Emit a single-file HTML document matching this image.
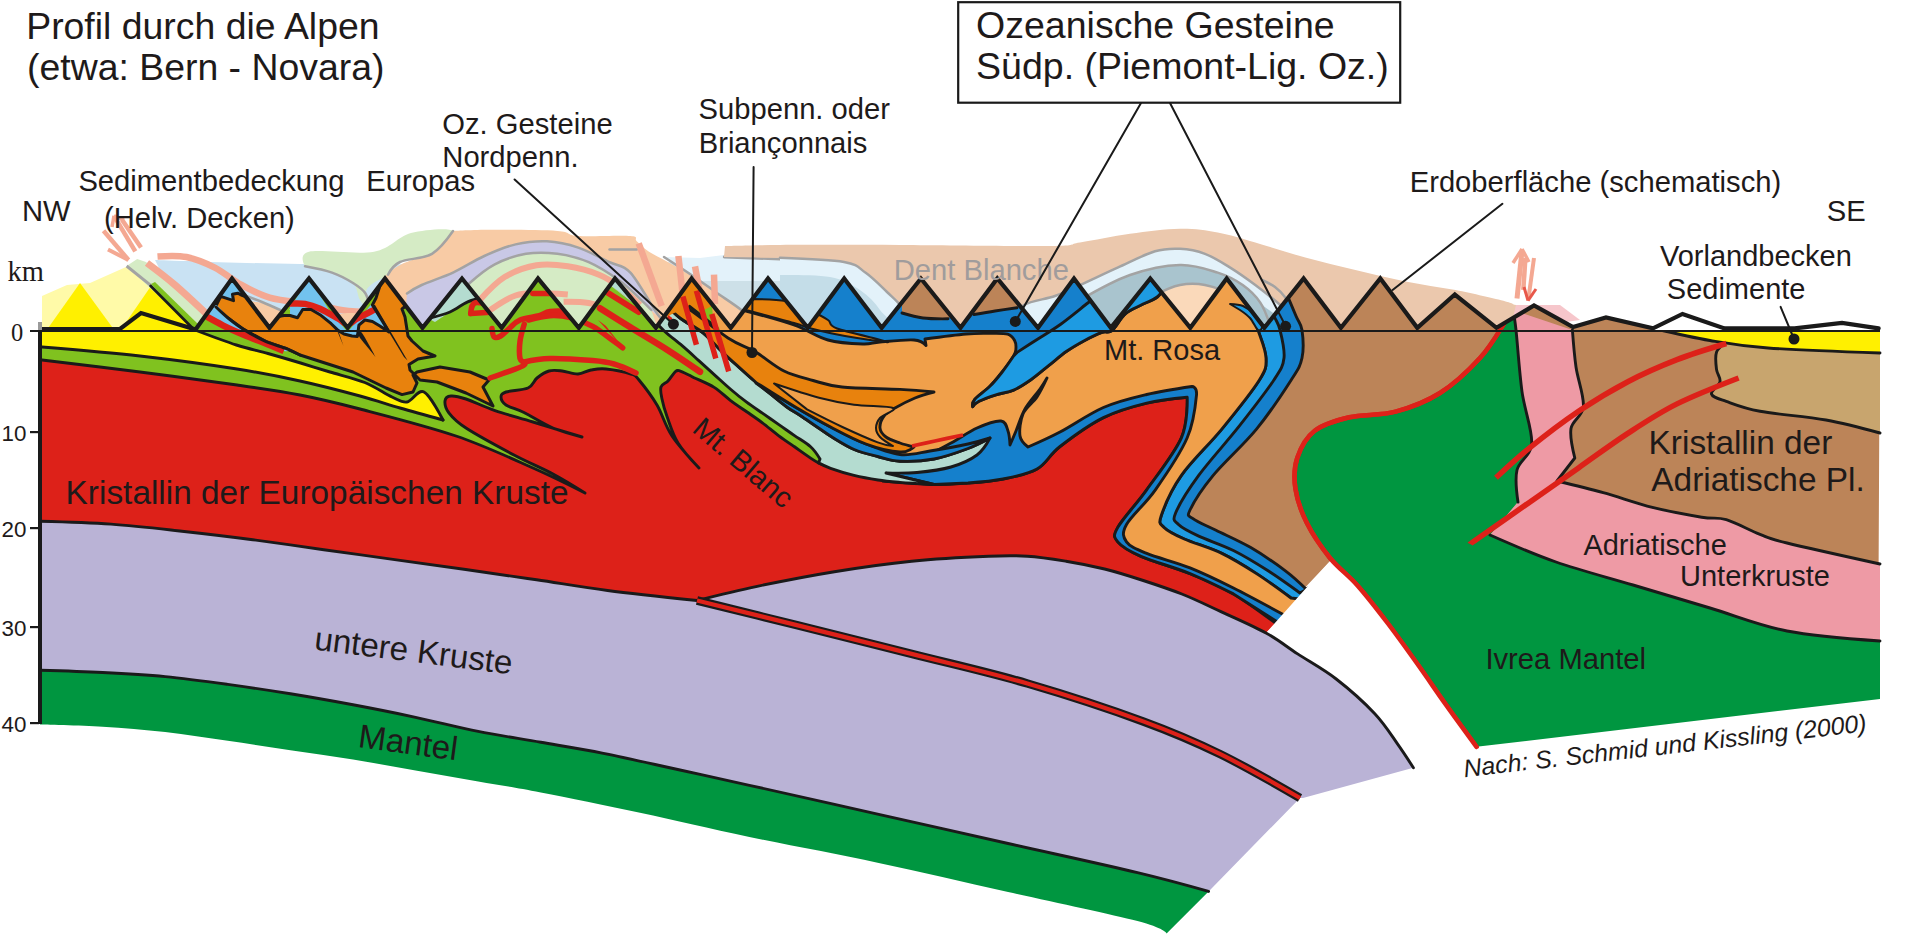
<!DOCTYPE html>
<html><head><meta charset="utf-8"><style>
html,body{margin:0;padding:0;background:#fff;}
svg{display:block;}
text{font-family:"Liberation Sans",sans-serif;}
</style></head><body>
<svg width="1917" height="934" viewBox="0 0 1917 934">
<path d="M40.0 670.3 C40.0 670.3 81.7 671.5 102.6 672.5 C123.5 673.5 144.3 674.6 165.2 676.6 C186.1 678.6 206.9 681.5 227.8 684.4 C248.7 687.3 269.5 690.4 290.4 693.8 C311.3 697.2 332.1 700.9 353.0 704.8 C373.9 708.7 394.7 712.9 415.6 717.3 C436.5 721.7 457.3 727.2 478.2 731.4 C499.1 735.6 519.9 738.6 540.8 742.3 C561.7 745.9 580.2 748.7 603.4 753.3 C626.6 757.9 655.7 764.7 680.0 770.0 C704.3 775.3 716.3 777.9 749.4 785.3 C782.5 792.7 835.6 804.7 878.7 814.4 C921.8 824.1 965.0 833.8 1008.1 843.5 C1051.2 853.2 1104.1 864.6 1137.5 872.6 C1170.9 880.6 1208.6 891.4 1208.6 891.4 L1166.6 933.4 C1166.6 933.4 1163.9 928.0 1137.5 921.1 C1111.1 914.2 1051.2 901.7 1008.1 892.0 C965.0 882.3 921.8 872.1 878.7 862.9 C835.6 853.7 789.2 845.4 749.4 837.0 C709.6 828.6 674.8 820.2 640.0 812.8 C605.2 805.4 567.8 797.6 540.8 792.4 C513.8 787.2 499.1 785.1 478.2 781.5 C457.3 777.9 436.5 774.2 415.6 770.5 C394.7 766.8 373.9 762.9 353.0 759.5 C332.1 756.1 311.3 753.3 290.4 750.2 C269.5 747.1 248.7 743.8 227.8 740.8 C206.9 737.8 186.1 734.4 165.2 732.0 C144.3 729.6 123.5 728.0 102.6 726.7 C81.7 725.5 40.0 724.5 40.0 724.5Z" fill="#009640" stroke="none" stroke-width="0" stroke-linejoin="round" />
<path d="M40.0 521.3 C40.0 521.3 87.3 522.5 111.0 524.1 C134.7 525.8 158.3 528.6 181.9 531.2 C205.5 533.8 229.2 536.6 252.8 539.7 C276.4 542.8 300.2 546.4 323.8 549.7 C347.4 553.0 371.1 556.3 394.7 559.6 C418.3 562.9 442.0 566.1 465.7 569.5 C489.4 572.9 513.0 576.3 536.6 579.8 C560.2 583.3 580.9 587.0 607.6 590.5 C634.3 594.0 697.0 600.5 697.0 600.5 L697.0 600.5 C697.0 600.5 760.0 616.0 795.8 624.9 C831.6 633.8 873.0 644.1 911.6 653.9 C950.2 663.7 988.8 672.2 1027.4 683.5 C1066.0 694.8 1111.0 709.6 1143.2 721.4 C1175.4 733.2 1194.3 741.4 1220.4 754.2 C1246.5 767.0 1300.0 798.0 1300.0 798.0 L1208.6 891.4 L1208.6 891.4 C1208.6 891.4 1170.9 880.6 1137.5 872.6 C1104.1 864.6 1051.2 853.2 1008.1 843.5 C965.0 833.8 921.8 824.1 878.7 814.4 C835.6 804.7 782.5 792.7 749.4 785.3 C716.3 777.9 704.3 775.3 680.0 770.0 C655.7 764.7 626.6 757.9 603.4 753.3 C580.2 748.7 561.7 745.9 540.8 742.3 C519.9 738.6 499.1 735.6 478.2 731.4 C457.3 727.2 436.5 721.7 415.6 717.3 C394.7 712.9 373.9 708.7 353.0 704.8 C332.1 700.9 311.3 697.2 290.4 693.8 C269.5 690.4 248.7 687.3 227.8 684.4 C206.9 681.5 186.1 678.6 165.2 676.6 C144.3 674.6 123.5 673.5 102.6 672.5 C81.7 671.5 40.0 670.3 40.0 670.3Z" fill="#bab3d6" stroke="none" stroke-width="0" stroke-linejoin="round" />
<path d="M40 345 L700 300 L1190 300 L1300 600 L1266 633 L1266.0 633.0 C1266.0 633.0 1234.4 617.9 1220.4 611.4 C1206.4 604.9 1194.7 599.1 1181.8 594.0 C1168.9 588.9 1156.1 584.7 1143.2 580.5 C1130.3 576.3 1117.5 572.2 1104.6 569.0 C1091.7 565.8 1078.9 563.3 1066.0 561.2 C1053.1 559.1 1040.3 557.0 1027.4 556.2 C1014.5 555.4 1008.1 555.4 988.8 556.2 C969.5 557.0 937.3 558.6 911.6 561.2 C885.9 563.8 860.1 567.5 834.4 571.7 C808.7 575.9 780.1 581.5 757.2 586.3 C734.3 591.1 697.0 600.5 697.0 600.5 L697.0 600.5 C697.0 600.5 634.3 594.0 607.6 590.5 C580.9 587.0 560.2 583.3 536.6 579.8 C513.0 576.3 489.4 572.9 465.7 569.5 C442.0 566.1 418.3 562.9 394.7 559.6 C371.1 556.3 347.4 553.0 323.8 549.7 C300.2 546.4 276.4 542.8 252.8 539.7 C229.2 536.6 205.5 533.8 181.9 531.2 C158.3 528.6 134.7 525.8 111.0 524.1 C87.3 522.5 40.0 521.3 40.0 521.3Z" fill="#dd2119" stroke="none" stroke-width="0" stroke-linejoin="round" />
<path d="M697.0 600.5 C697.0 600.5 734.3 591.1 757.2 586.3 C780.1 581.5 808.7 575.9 834.4 571.7 C860.1 567.5 885.9 563.8 911.6 561.2 C937.3 558.6 969.5 557.0 988.8 556.2 C1008.1 555.4 1014.5 555.4 1027.4 556.2 C1040.3 557.0 1053.1 559.1 1066.0 561.2 C1078.9 563.3 1091.7 565.8 1104.6 569.0 C1117.5 572.2 1130.3 576.3 1143.2 580.5 C1156.1 584.7 1168.9 588.9 1181.8 594.0 C1194.7 599.1 1206.4 604.9 1220.4 611.4 C1234.4 617.9 1266.0 633.0 1266.0 633.0 L1266.0 633.0 C1266.0 633.0 1285.9 646.2 1297.6 653.9 C1309.3 661.6 1323.3 669.0 1336.2 679.0 C1349.1 689.0 1364.5 702.8 1374.8 713.7 C1385.1 724.6 1391.6 735.6 1398.0 744.6 C1404.4 753.6 1413.4 767.8 1413.4 767.8 L1303 798 L1300.0 798.0 C1300.0 798.0 1246.5 767.0 1220.4 754.2 C1194.3 741.4 1175.4 733.2 1143.2 721.4 C1111.0 709.6 1066.0 694.8 1027.4 683.5 C988.8 672.2 950.2 663.7 911.6 653.9 C873.0 644.1 831.6 633.8 795.8 624.9 C760.0 616.0 697.0 600.5 697.0 600.5Z" fill="#bab3d6" stroke="none" stroke-width="0" stroke-linejoin="round" />
<path d="M1262 280 L1880 280 L1878 690 L1480 730 L1331 560 L1300 593 L1268.1 570.8 L1233.4 550.5 L1198.7 536.1 L1178.5 524.5 L1175.6 513 L1198.7 475.4 L1239.2 426.2 L1273.9 380 L1284 358 L1280 330Z" fill="#bc8458" stroke="none" stroke-width="0" stroke-linejoin="round" />
<path d="M1513.0 306.0 C1513.0 306.0 1510.5 313.3 1505.0 322.0 C1499.5 330.7 1490.8 346.2 1480.0 358.0 C1469.2 369.8 1454.1 384.1 1440.0 393.0 C1425.9 401.9 1410.7 407.6 1395.6 411.6 C1380.5 415.7 1362.9 414.1 1349.4 417.3 C1335.9 420.5 1323.4 424.1 1314.7 430.8 C1306.0 437.6 1300.5 448.2 1297.3 457.8 C1294.1 467.4 1293.8 477.7 1295.4 488.6 C1297.0 499.5 1301.2 511.7 1307.0 523.3 C1312.8 534.9 1321.7 547.7 1330.0 558.0 C1338.3 568.3 1347.3 574.1 1357.0 585.0 C1366.7 595.9 1377.6 610.0 1387.9 623.5 C1398.2 637.0 1409.1 652.3 1418.7 665.8 C1428.3 679.3 1436.1 690.9 1445.7 704.4 C1455.3 717.9 1476.5 746.8 1476.5 746.8 L1880 699 L1880.0 641.0 C1880.0 641.0 1815.3 636.5 1787.0 631.0 C1758.7 625.5 1735.7 615.7 1710.0 608.0 C1684.3 600.3 1658.7 592.7 1633.0 585.0 C1607.3 577.3 1579.8 570.3 1556.0 562.0 C1532.2 553.7 1490.0 535.0 1490.0 535.0 L1518.0 502.0 C1518.0 502.0 1514.7 479.8 1517.0 470.0 C1519.3 460.2 1530.9 456.4 1531.7 443.3 C1532.5 430.2 1524.6 410.5 1522.0 391.6 C1519.4 372.7 1517.5 343.6 1516.0 330.0 C1514.5 316.4 1513.0 310.0 1513.0 310.0Z" fill="#009640" stroke="none" stroke-width="0" stroke-linejoin="round" />
<path d="M1513.0 310.0 C1513.0 310.0 1514.5 316.4 1516.0 330.0 C1517.5 343.6 1519.4 372.7 1522.0 391.6 C1524.6 410.5 1532.5 430.2 1531.7 443.3 C1530.9 456.4 1519.3 460.2 1517.0 470.0 C1514.7 479.8 1518.0 502.0 1518.0 502.0 L1490.0 535.0 C1490.0 535.0 1532.2 553.7 1556.0 562.0 C1579.8 570.3 1607.3 577.3 1633.0 585.0 C1658.7 592.7 1684.3 600.3 1710.0 608.0 C1735.7 615.7 1758.7 625.5 1787.0 631.0 C1815.3 636.5 1880.0 641.0 1880.0 641.0 L1880.0 564.0 C1880.0 564.0 1807.0 547.9 1787.0 543.0 C1767.0 538.1 1770.1 538.3 1760.0 534.4 C1749.9 530.5 1736.0 522.6 1726.3 519.7 C1716.6 516.8 1714.0 519.3 1701.7 517.2 C1689.4 515.1 1668.8 511.4 1652.4 507.3 C1636.0 503.2 1619.1 497.0 1603.2 492.6 C1587.3 488.2 1557.0 481.0 1557.0 481.0 L1557.0 481.0 C1557.0 481.0 1574.8 458.0 1574.8 458.0 C1574.8 458.0 1569.6 437.1 1571.0 428.5 C1572.4 419.9 1582.6 416.6 1583.4 406.4 C1584.2 396.1 1577.8 379.7 1576.0 367.0 C1574.2 354.3 1572.4 330.0 1572.4 330.0Z" fill="#ee9aa5" stroke="none" stroke-width="0" stroke-linejoin="round" />
<path d="M1513.0 310.0 C1513.0 310.0 1514.5 316.4 1516.0 330.0 C1517.5 343.6 1519.4 372.7 1522.0 391.6 C1524.6 410.5 1532.5 430.2 1531.7 443.3 C1530.9 456.4 1519.3 460.2 1517.0 470.0 C1514.7 479.8 1518.0 502.0 1518.0 502.0" fill="none" stroke="#1a1a1a" stroke-width="2.9"  stroke-linecap="round" stroke-linejoin="round"/>
<path d="M1572.4 330.0 C1572.4 330.0 1574.2 354.3 1576.0 367.0 C1577.8 379.7 1584.2 396.1 1583.4 406.4 C1582.6 416.6 1572.4 419.9 1571.0 428.5 C1569.6 437.1 1574.8 458.0 1574.8 458.0 C1574.8 458.0 1557.0 481.0 1557.0 481.0 C1557.0 481.0 1587.3 488.2 1603.2 492.6 C1619.1 497.0 1636.0 503.2 1652.4 507.3 C1668.8 511.4 1689.4 515.1 1701.7 517.2 C1714.0 519.3 1716.6 516.8 1726.3 519.7 C1736.0 522.6 1749.9 530.5 1760.0 534.4 C1770.1 538.3 1767.0 538.1 1787.0 543.0 C1807.0 547.9 1880.0 564.0 1880.0 564.0" fill="none" stroke="#1a1a1a" stroke-width="2.9"  stroke-linecap="round" stroke-linejoin="round"/>
<path d="M1880.0 641.0 C1880.0 641.0 1815.3 636.5 1787.0 631.0 C1758.7 625.5 1735.7 615.7 1710.0 608.0 C1684.3 600.3 1658.7 592.7 1633.0 585.0 C1607.3 577.3 1579.8 570.3 1556.0 562.0 C1532.2 553.7 1490.0 535.0 1490.0 535.0" fill="none" stroke="#1a1a1a" stroke-width="2.9"  stroke-linecap="round" stroke-linejoin="round"/>
<path d="M1726.3 342.3 C1726.3 342.3 1718.1 347.7 1716.5 352.2 C1714.9 356.7 1715.9 364.5 1716.5 369.4 C1717.1 374.3 1720.8 377.6 1720.0 381.7 C1719.2 385.8 1710.5 390.7 1711.5 394.0 C1712.5 397.3 1718.2 398.5 1726.3 401.4 C1734.4 404.3 1743.4 408.2 1760.0 411.3 C1776.6 414.4 1806.0 416.4 1826.0 420.0 C1846.0 423.6 1880.0 433.0 1880.0 433.0 L1880 352 L1768 348 L1726 342Z" fill="#c8a56e" stroke="none" stroke-width="0" stroke-linejoin="round" />
<path d="M1726.3 342.3 C1726.3 342.3 1718.1 347.7 1716.5 352.2 C1714.9 356.7 1715.9 364.5 1716.5 369.4 C1717.1 374.3 1720.8 377.6 1720.0 381.7 C1719.2 385.8 1710.5 390.7 1711.5 394.0 C1712.5 397.3 1718.2 398.5 1726.3 401.4 C1734.4 404.3 1743.4 408.2 1760.0 411.3 C1776.6 414.4 1806.0 416.4 1826.0 420.0 C1846.0 423.6 1880.0 433.0 1880.0 433.0" fill="none" stroke="#1a1a1a" stroke-width="2.9"  stroke-linecap="round" stroke-linejoin="round"/>
<path d="M1656.0 329.0 C1656.0 329.0 1691.3 337.3 1710.0 340.5 C1728.7 343.7 1739.7 345.9 1768.0 348.0 C1796.3 350.1 1880.0 353.0 1880.0 353.0 L1880 329 L1656 329Z" fill="#fff000" stroke="none" stroke-width="0" stroke-linejoin="round" />
<path d="M1656.0 329.0 C1656.0 329.0 1691.3 337.3 1710.0 340.5 C1728.7 343.7 1739.7 345.9 1768.0 348.0 C1796.3 350.1 1880.0 353.0 1880.0 353.0" fill="none" stroke="#1a1a1a" stroke-width="2.9"  stroke-linecap="round" stroke-linejoin="round"/>
<path d="M1496.0 477.8 C1496.0 477.8 1515.5 459.3 1529.3 448.2 C1543.0 437.1 1562.1 422.4 1578.5 411.3 C1594.9 400.2 1611.4 390.3 1627.8 381.7 C1644.2 373.1 1660.6 366.0 1677.0 359.6 C1693.4 353.2 1726.3 343.5 1726.3 343.5" fill="none" stroke="#dd2119" stroke-width="5.5" stroke-linecap="butt" stroke-linejoin="round"/>
<path d="M1470.0 544.0 C1470.0 544.0 1470.1 543.8 1480.0 536.9 C1489.9 530.0 1512.9 513.9 1529.3 502.4 C1545.7 490.9 1562.1 479.4 1578.5 467.9 C1594.9 456.4 1611.4 444.1 1627.8 433.4 C1644.2 422.7 1658.5 413.1 1677.0 403.9 C1695.5 394.7 1738.6 378.0 1738.6 378.0" fill="none" stroke="#dd2119" stroke-width="5.5" stroke-linecap="butt" stroke-linejoin="round"/>
<path d="M1513.0 306.0 C1513.0 306.0 1510.5 313.3 1505.0 322.0 C1499.5 330.7 1490.8 346.2 1480.0 358.0 C1469.2 369.8 1454.1 384.1 1440.0 393.0 C1425.9 401.9 1410.7 407.6 1395.6 411.6 C1380.5 415.7 1362.9 414.1 1349.4 417.3 C1335.9 420.5 1323.4 424.1 1314.7 430.8 C1306.0 437.6 1300.5 448.2 1297.3 457.8 C1294.1 467.4 1293.8 477.7 1295.4 488.6 C1297.0 499.5 1301.2 511.7 1307.0 523.3 C1312.8 534.9 1321.7 547.7 1330.0 558.0 C1338.3 568.3 1347.3 574.1 1357.0 585.0 C1366.7 595.9 1377.6 610.0 1387.9 623.5 C1398.2 637.0 1409.1 652.3 1418.7 665.8 C1428.3 679.3 1436.1 690.9 1445.7 704.4 C1455.3 717.9 1476.5 746.8 1476.5 746.8" fill="none" stroke="#dd2119" stroke-width="4.5"  stroke-linecap="round" stroke-linejoin="round"/>
<path d="M1285.0 290.0 C1285.0 290.0 1293.2 309.3 1296.0 316.0 C1298.8 322.7 1301.0 323.0 1302.0 330.0 C1303.0 337.0 1303.8 349.7 1302.0 358.0 C1300.2 366.3 1298.8 368.1 1291.2 380.0 C1283.6 391.9 1269.5 413.2 1256.5 429.1 C1243.5 445.0 1224.3 461.9 1213.2 475.4 C1202.1 488.9 1193.4 502.8 1190.0 510.0 C1186.6 517.2 1188.7 515.3 1193.0 518.7 C1197.3 522.1 1206.4 525.5 1216.0 530.3 C1225.6 535.1 1239.2 540.9 1250.8 547.6 C1262.4 554.4 1276.2 563.9 1285.4 570.8 C1294.6 577.7 1306.0 589.0 1306.0 589.0 L1318 583 L1305 606 L1291.0 598.0 C1291.0 598.0 1268.0 581.0 1256.5 573.6 C1245.0 566.2 1233.8 559.2 1221.8 553.4 C1209.8 547.6 1193.9 543.3 1184.3 539.0 C1174.7 534.7 1167.8 531.3 1164.0 527.4 C1160.2 523.5 1158.3 524.5 1161.2 515.8 C1164.1 507.1 1171.3 489.8 1181.4 475.4 C1191.5 460.9 1208.8 445.0 1221.8 429.1 C1234.8 413.2 1252.0 391.9 1259.4 380.0 C1266.8 368.1 1266.2 366.3 1266.0 358.0 C1265.8 349.7 1260.3 337.0 1258.0 330.0 C1255.7 323.0 1255.0 322.7 1252.0 316.0 C1249.0 309.3 1243.7 298.0 1240.0 290.0 C1236.3 282.0 1230.0 268.0 1230.0 268.0Z" fill="#1580cc" stroke="#1a1a1a" stroke-width="2.9" stroke-linejoin="round" />
<path d="M1262.0 290.0 C1262.0 290.0 1271.0 309.3 1274.0 316.0 C1277.0 322.7 1278.3 323.0 1280.0 330.0 C1281.7 337.0 1285.0 349.7 1284.0 358.0 C1283.0 366.3 1281.4 368.6 1273.9 380.0 C1266.4 391.4 1251.7 410.3 1239.2 426.2 C1226.7 442.1 1209.3 460.9 1198.7 475.4 C1188.1 489.9 1179.0 504.8 1175.6 513.0 C1172.2 521.2 1174.7 520.6 1178.5 524.5 C1182.3 528.4 1189.5 531.8 1198.7 536.1 C1207.9 540.4 1221.8 544.7 1233.4 550.5 C1245.0 556.3 1257.0 563.7 1268.1 570.8 C1279.2 577.9 1300.0 593.0 1300.0 593.0 L1318 583 L1305 606 L1291.0 598.0 C1291.0 598.0 1268.0 581.0 1256.5 573.6 C1245.0 566.2 1233.8 559.2 1221.8 553.4 C1209.8 547.6 1193.9 543.3 1184.3 539.0 C1174.7 534.7 1167.8 531.3 1164.0 527.4 C1160.2 523.5 1158.3 524.5 1161.2 515.8 C1164.1 507.1 1171.3 489.8 1181.4 475.4 C1191.5 460.9 1208.8 445.0 1221.8 429.1 C1234.8 413.2 1252.0 391.9 1259.4 380.0 C1266.8 368.1 1266.2 366.3 1266.0 358.0 C1265.8 349.7 1260.3 337.0 1258.0 330.0 C1255.7 323.0 1255.0 322.7 1252.0 316.0 C1249.0 309.3 1243.7 298.0 1240.0 290.0 C1236.3 282.0 1230.0 268.0 1230.0 268.0Z" fill="#1e9be2" stroke="#1a1a1a" stroke-width="2.9" stroke-linejoin="round" />
<path d="M1230.0 268.0 C1230.0 268.0 1236.3 282.0 1240.0 290.0 C1243.7 298.0 1249.0 309.3 1252.0 316.0 C1255.0 322.7 1255.7 323.0 1258.0 330.0 C1260.3 337.0 1265.8 349.7 1266.0 358.0 C1266.2 366.3 1266.8 368.1 1259.4 380.0 C1252.0 391.9 1234.8 413.2 1221.8 429.1 C1208.8 445.0 1191.5 460.9 1181.4 475.4 C1171.3 489.8 1164.1 507.1 1161.2 515.8 C1158.3 524.5 1160.2 523.5 1164.0 527.4 C1167.8 531.3 1174.7 534.7 1184.3 539.0 C1193.9 543.3 1209.8 547.6 1221.8 553.4 C1233.8 559.2 1245.0 566.2 1256.5 573.6 C1268.0 581.0 1291.0 598.0 1291.0 598.0 L1308 600 L1292 625 L1278.0 625.0 C1278.0 625.0 1248.1 602.5 1233.4 593.9 C1218.7 585.3 1205.4 579.9 1190.0 573.6 C1174.6 567.3 1153.0 561.6 1141.0 556.3 C1129.0 551.0 1121.7 546.6 1117.8 541.8 C1113.9 537.0 1113.0 536.1 1117.8 527.4 C1122.6 518.7 1136.1 504.7 1146.7 489.8 C1157.3 474.9 1174.7 453.2 1181.4 437.8 C1188.2 422.4 1187.2 397.3 1187.2 397.3 C1187.2 397.3 1160.7 399.7 1146.7 403.1 C1132.7 406.5 1117.9 410.4 1103.4 417.6 C1089.0 424.8 1071.1 437.9 1060.0 446.5 C1048.9 455.1 1046.5 463.6 1037.0 469.0 C1027.5 474.4 1014.5 476.7 1003.0 479.0 C991.5 481.3 979.5 482.1 968.0 483.0 C956.5 483.9 948.2 484.8 934.0 484.5 C919.8 484.2 883.0 481.0 883.0 481.0 L850 440 L760 390 L700 330 L690 268Z" fill="#f0a04b" stroke="#1a1a1a" stroke-width="2.9" stroke-linejoin="round" />
<path d="M1286.0 616.0 C1286.0 616.0 1249.4 596.0 1233.4 588.0 C1217.4 580.0 1204.5 573.7 1190.0 567.9 C1175.5 562.1 1157.3 557.8 1146.7 553.4 C1136.1 549.0 1129.9 546.6 1126.5 541.8 C1123.1 537.0 1121.7 533.2 1126.5 524.5 C1131.3 515.8 1145.3 504.2 1155.4 489.8 C1165.5 475.4 1180.4 453.6 1187.2 437.8 C1194.0 422.0 1195.7 403.6 1196.5 395.0 C1197.3 386.4 1192.0 386.5 1192.0 386.5 C1192.0 386.5 1161.5 391.0 1146.7 394.5 C1131.9 398.0 1117.9 401.2 1103.4 407.5 C1089.0 413.8 1072.6 425.4 1060.0 432.0 C1047.4 438.6 1028.0 447.0 1028.0 447.0 C1028.0 447.0 1020.8 441.5 1020.0 436.0 C1019.2 430.5 1020.2 420.5 1023.0 414.0 C1025.8 407.5 1033.0 403.0 1037.0 397.0 C1041.0 391.0 1047.0 378.0 1047.0 378.0 C1047.0 378.0 1043.7 383.8 1040.0 389.0 C1036.3 394.2 1029.0 402.0 1025.0 409.0 C1021.0 416.0 1018.5 425.0 1016.0 431.0 C1013.5 437.0 1010.0 445.0 1010.0 445.0 C1010.0 445.0 1009.5 435.0 1008.0 431.0 C1006.5 427.0 1006.2 421.5 1001.0 421.0 C995.8 420.5 985.3 424.3 977.0 428.0 C968.7 431.7 959.5 438.5 951.0 443.0 C942.5 447.5 934.5 452.5 926.0 455.0 C917.5 457.5 906.7 455.0 900.0 458.0 C893.3 461.0 886.0 473.0 886.0 473.0 L934 484.5 L968.0 483.0 C968.0 483.0 991.5 481.3 1003.0 479.0 C1014.5 476.7 1027.5 474.4 1037.0 469.0 C1046.5 463.6 1048.9 455.1 1060.0 446.5 C1071.1 437.9 1089.0 424.8 1103.4 417.6 C1117.9 410.4 1132.7 406.5 1146.7 403.1 C1160.7 399.7 1187.2 397.3 1187.2 397.3 C1187.2 397.3 1188.2 422.4 1181.4 437.8 C1174.7 453.2 1157.3 474.9 1146.7 489.8 C1136.1 504.7 1122.6 518.7 1117.8 527.4 C1113.0 536.1 1113.9 537.0 1117.8 541.8 C1121.7 546.6 1129.0 551.0 1141.0 556.3 C1153.0 561.6 1174.6 567.3 1190.0 573.6 C1205.4 579.9 1233.4 593.9 1233.4 593.9 L1290 630 L1295 620Z" fill="#1580cc" stroke="#1a1a1a" stroke-width="2.9" stroke-linejoin="round" />
<path d="M735.0 270.0 C735.0 270.0 1094.2 265.9 1165.0 270.0 C1235.8 274.1 1163.2 289.0 1159.6 294.7 C1155.9 300.4 1148.8 301.0 1143.1 304.1 C1137.4 307.2 1130.7 309.2 1125.5 313.6 C1120.3 318.0 1115.9 327.5 1112.0 330.6 C1108.1 333.7 1106.5 330.7 1101.9 332.4 C1097.3 334.1 1090.1 337.5 1084.2 340.7 C1078.3 343.9 1072.5 347.2 1066.6 351.3 C1060.7 355.4 1054.8 360.7 1048.9 365.4 C1043.0 370.1 1037.1 375.4 1031.2 379.5 C1025.3 383.6 1019.5 387.6 1013.6 390.1 C1007.7 392.7 1001.7 392.9 995.9 394.8 C990.1 396.7 982.9 399.3 979.0 401.3 C975.1 403.3 972.7 406.7 972.7 406.7 C972.7 406.7 972.0 402.6 974.9 399.2 C977.8 395.8 985.4 390.8 989.9 386.3 C994.4 381.9 997.8 377.6 1001.8 372.5 C1005.8 367.4 1011.2 359.9 1013.6 356.0 C1016.0 352.1 1015.7 351.4 1015.9 348.9 C1016.1 346.3 1016.1 343.1 1014.7 340.7 C1013.3 338.2 1011.8 335.4 1007.7 334.2 C1003.6 333.0 997.0 333.4 990.0 333.4 C983.0 333.4 976.8 333.1 966.0 334.0 C955.2 334.9 925.0 339.0 925.0 339.0 C925.0 339.0 926.0 345.5 926.0 345.5 C926.0 345.5 921.7 340.6 914.0 340.0 C906.3 339.4 888.5 341.3 880.0 342.0 C871.5 342.7 871.7 344.3 863.0 344.0 C854.3 343.7 839.5 343.2 828.0 340.0 C816.5 336.8 807.7 329.8 794.0 325.0 C780.3 320.2 746.0 311.0 746.0 311.0Z" fill="#1580cc" stroke="#1a1a1a" stroke-width="2.9" stroke-linejoin="round" />
<path d="M1017.1 352.4 C1017.1 352.4 1029.8 344.2 1037.1 339.5 C1044.4 334.8 1052.2 330.3 1060.7 324.2 C1069.2 318.1 1082.5 307.1 1087.8 303.0 C1093.1 298.9 1088.8 302.4 1092.5 299.4 C1096.2 296.4 1097.9 289.1 1110.0 285.0 C1122.1 280.9 1156.7 273.4 1165.0 275.0 C1173.3 276.6 1163.2 289.8 1159.6 294.7 C1155.9 299.6 1148.8 301.0 1143.1 304.1 C1137.4 307.2 1130.7 309.2 1125.5 313.6 C1120.3 318.0 1115.9 327.5 1112.0 330.6 C1108.1 333.7 1106.5 330.7 1101.9 332.4 C1097.3 334.1 1090.1 337.5 1084.2 340.7 C1078.3 343.9 1072.5 347.2 1066.6 351.3 C1060.7 355.4 1054.8 360.7 1048.9 365.4 C1043.0 370.1 1037.1 375.4 1031.2 379.5 C1025.3 383.6 1019.5 387.6 1013.6 390.1 C1007.7 392.7 1001.7 392.9 995.9 394.8 C990.1 396.7 982.9 399.3 979.0 401.3 C975.1 403.3 972.7 406.7 972.7 406.7 C972.7 406.7 972.0 402.6 974.9 399.2 C977.8 395.8 985.4 390.8 989.9 386.3 C994.4 381.9 997.8 377.6 1001.8 372.5 C1005.8 367.4 1013.6 356.0 1013.6 356.0Z" fill="#1e9be2" stroke="#1a1a1a" stroke-width="2.9" stroke-linejoin="round" />
<path d="M902.0 300.0 C902.0 300.0 913.0 277.0 921.0 277.0 C929.0 277.0 945.5 293.0 950.0 300.0 C954.5 307.0 952.5 315.8 948.0 318.8 C943.5 321.8 930.7 319.0 923.0 318.0 C915.3 317.0 902.0 313.0 902.0 313.0Z" fill="#bc8458" stroke="none" stroke-width="0" stroke-linejoin="round" />
<path d="M902.0 313.0 C902.0 313.0 915.3 317.0 923.0 318.0 C930.7 319.0 948.0 318.8 948.0 318.8" fill="none" stroke="#1a1a1a" stroke-width="2.9"  stroke-linecap="round" stroke-linejoin="round"/>
<path d="M975.0 300.0 C975.0 300.0 989.5 277.0 997.0 277.0 C1004.5 277.0 1016.7 294.9 1020.0 300.0 C1023.3 305.1 1021.2 305.9 1017.0 307.7 C1012.8 309.5 1002.2 309.9 995.0 311.0 C987.8 312.1 974.0 314.5 974.0 314.5Z" fill="#bc8458" stroke="none" stroke-width="0" stroke-linejoin="round" />
<path d="M974.0 314.5 C974.0 314.5 987.8 312.1 995.0 311.0 C1002.2 309.9 1017.0 307.7 1017.0 307.7" fill="none" stroke="#1a1a1a" stroke-width="2.9"  stroke-linecap="round" stroke-linejoin="round"/>
<path d="M749.0 299.0 C749.0 299.0 775.7 299.0 786.0 301.0 C796.3 303.0 804.0 307.8 811.0 311.0 C818.0 314.2 823.7 317.1 828.0 320.0 C832.3 322.9 827.0 324.8 837.0 328.5 C847.0 332.2 886.7 340.8 888.0 342.0 C889.3 343.2 857.8 338.2 845.0 336.0 C832.2 333.8 819.5 330.7 811.0 328.5 C802.5 326.3 804.8 326.1 794.0 323.0 C783.2 319.9 746.0 310.0 746.0 310.0Z" fill="#e8820d" stroke="#1a1a1a" stroke-width="2" stroke-linejoin="round" />
<path d="M42.0 360.0 C42.0 360.0 107.5 367.8 140.0 372.0 C172.5 376.2 210.3 381.2 237.0 385.0 C263.7 388.8 279.5 391.0 300.0 395.0 C320.5 399.0 334.0 402.2 360.0 409.0 C386.0 415.8 427.2 426.2 456.0 436.0 C484.8 445.8 511.5 458.5 533.0 468.0 C554.5 477.5 585.0 493.0 585.0 493.0 C585.0 493.0 564.8 480.3 553.0 474.0 C541.2 467.7 528.5 462.7 514.0 455.0 C499.5 447.3 476.8 435.0 466.0 428.0 C455.2 421.0 452.5 417.5 449.0 413.0 C445.5 408.5 444.7 403.8 445.0 401.0 C445.3 398.2 447.5 396.3 451.0 396.0 C454.5 395.7 458.7 396.6 466.0 399.0 C473.3 401.4 483.8 406.8 495.0 410.6 C506.2 414.4 518.5 417.6 533.0 422.0 C547.5 426.4 582.0 437.0 582.0 437.0 C582.0 437.0 562.7 432.1 553.0 428.0 C543.3 423.9 531.8 416.3 524.0 412.5 C516.2 408.7 509.8 407.6 506.0 405.0 C502.2 402.4 501.0 399.2 501.0 397.0 C501.0 394.8 501.5 393.5 506.0 392.0 C510.5 390.5 522.8 390.3 528.0 388.0 C533.2 385.7 533.5 380.8 537.0 378.0 C540.5 375.2 544.8 372.2 549.0 371.0 C553.2 369.8 557.2 370.5 562.0 371.0 C566.8 371.5 573.2 374.2 578.0 374.0 C582.8 373.8 586.3 370.8 591.0 370.0 C595.7 369.2 599.3 368.3 606.0 369.0 C612.7 369.7 625.5 372.2 631.0 374.0 C636.5 375.8 634.7 374.8 639.0 380.0 C643.3 385.2 651.5 395.7 657.0 405.0 C662.5 414.3 665.0 425.5 672.0 436.0 C679.0 446.5 699.0 468.0 699.0 468.0 C699.0 468.0 683.3 451.6 678.0 443.0 C672.7 434.4 669.7 423.8 667.0 416.5 C664.3 409.2 663.0 403.9 662.0 399.0 C661.0 394.1 660.0 390.0 661.0 387.0 C662.0 384.0 665.7 383.5 668.0 381.0 C670.3 378.5 673.2 373.7 675.0 372.0 C676.8 370.3 676.6 370.1 679.0 370.6 C681.4 371.2 687.0 374.1 689.5 375.3 C692.0 376.5 689.9 375.7 694.0 377.7 C698.1 379.7 708.2 383.6 714.2 387.4 C720.2 391.2 724.9 396.3 730.3 400.3 C735.6 404.3 740.9 407.8 746.3 411.5 C751.6 415.2 757.0 418.8 762.4 422.8 C767.8 426.8 773.1 431.6 778.5 435.6 C783.9 439.6 789.1 443.1 794.5 446.8 C799.9 450.6 806.6 455.4 810.6 458.1 C814.6 460.8 816.4 461.8 818.6 462.9 C820.8 464.0 824.0 465.0 824.0 465.0 L800 420 L720 330 L700 270 L400 270 L210 300 L195 330 L42 330Z" fill="#80c21f" stroke="none" stroke-width="0" stroke-linejoin="round" />
<path d="M42.0 360.0 C42.0 360.0 107.5 367.8 140.0 372.0 C172.5 376.2 210.3 381.2 237.0 385.0 C263.7 388.8 279.5 391.0 300.0 395.0 C320.5 399.0 334.0 402.2 360.0 409.0 C386.0 415.8 427.2 426.2 456.0 436.0 C484.8 445.8 511.5 458.5 533.0 468.0 C554.5 477.5 585.0 493.0 585.0 493.0 C585.0 493.0 564.8 480.3 553.0 474.0 C541.2 467.7 528.5 462.7 514.0 455.0 C499.5 447.3 476.8 435.0 466.0 428.0 C455.2 421.0 452.5 417.5 449.0 413.0 C445.5 408.5 444.7 403.8 445.0 401.0 C445.3 398.2 447.5 396.3 451.0 396.0 C454.5 395.7 458.7 396.6 466.0 399.0 C473.3 401.4 483.8 406.8 495.0 410.6 C506.2 414.4 518.5 417.6 533.0 422.0 C547.5 426.4 582.0 437.0 582.0 437.0 C582.0 437.0 562.7 432.1 553.0 428.0 C543.3 423.9 531.8 416.3 524.0 412.5 C516.2 408.7 509.8 407.6 506.0 405.0 C502.2 402.4 501.0 399.2 501.0 397.0 C501.0 394.8 501.5 393.5 506.0 392.0 C510.5 390.5 522.8 390.3 528.0 388.0 C533.2 385.7 533.5 380.8 537.0 378.0 C540.5 375.2 544.8 372.2 549.0 371.0 C553.2 369.8 557.2 370.5 562.0 371.0 C566.8 371.5 573.2 374.2 578.0 374.0 C582.8 373.8 586.3 370.8 591.0 370.0 C595.7 369.2 599.3 368.3 606.0 369.0 C612.7 369.7 625.5 372.2 631.0 374.0 C636.5 375.8 634.7 374.8 639.0 380.0 C643.3 385.2 651.5 395.7 657.0 405.0 C662.5 414.3 665.0 425.5 672.0 436.0 C679.0 446.5 699.0 468.0 699.0 468.0 C699.0 468.0 683.3 451.6 678.0 443.0 C672.7 434.4 669.7 423.8 667.0 416.5 C664.3 409.2 663.0 403.9 662.0 399.0 C661.0 394.1 660.0 390.0 661.0 387.0 C662.0 384.0 665.7 383.5 668.0 381.0 C670.3 378.5 673.2 373.7 675.0 372.0 C676.8 370.3 676.6 370.1 679.0 370.6 C681.4 371.2 687.0 374.1 689.5 375.3 C692.0 376.5 689.9 375.7 694.0 377.7 C698.1 379.7 708.2 383.6 714.2 387.4 C720.2 391.2 724.9 396.3 730.3 400.3 C735.6 404.3 740.9 407.8 746.3 411.5 C751.6 415.2 757.0 418.8 762.4 422.8 C767.8 426.8 773.1 431.6 778.5 435.6 C783.9 439.6 789.1 443.1 794.5 446.8 C799.9 450.6 806.6 455.4 810.6 458.1 C814.6 460.8 816.4 461.8 818.6 462.9 C820.8 464.0 824.0 465.0 824.0 465.0" fill="none" stroke="#1a1a1a" stroke-width="2.9"  stroke-linecap="round" stroke-linejoin="round"/>
<path d="M662.0 300.0 C662.0 300.0 673.2 312.5 680.0 318.0 C686.8 323.5 696.0 327.1 703.0 332.8 C710.0 338.5 716.4 346.5 722.3 352.1 C728.2 357.7 732.9 361.8 738.3 366.6 C743.6 371.4 749.0 376.4 754.4 381.0 C759.8 385.6 765.0 389.6 770.4 393.9 C775.8 398.2 781.1 402.8 786.5 406.7 C791.9 410.6 797.1 413.4 802.5 417.0 C807.9 420.6 813.7 424.7 818.6 428.0 C823.5 431.3 826.1 433.4 832.0 437.0 C837.9 440.6 846.6 446.2 854.2 449.5 C861.8 452.8 870.1 454.6 877.7 456.5 C885.3 458.4 890.6 460.8 900.0 461.2 C909.4 461.6 922.7 461.1 934.0 459.0 C945.3 456.9 958.7 452.0 968.0 448.5 C977.3 445.0 990.0 438.0 990.0 438.0 C990.0 438.0 983.5 450.2 977.0 455.0 C970.5 459.8 961.0 464.1 951.0 467.0 C941.0 469.9 927.8 471.5 917.0 472.5 C906.2 473.5 886.0 473.0 886.0 473.0 C886.0 473.0 934.0 484.5 934.0 484.5 L934.0 484.5 C934.0 484.5 909.3 483.1 900.0 482.4 C890.7 481.6 885.7 481.2 878.0 480.0 C870.3 478.8 861.9 477.3 854.0 475.4 C846.1 473.4 836.5 470.4 830.6 468.3 C824.7 466.2 818.6 462.9 818.6 462.9 L820.0 459.0 C820.0 459.0 814.9 450.7 810.6 446.8 C806.4 442.9 799.9 439.3 794.5 435.6 C789.1 431.9 783.9 428.1 778.5 424.4 C773.1 420.6 767.8 416.9 762.4 413.1 C757.0 409.4 751.6 405.9 746.3 401.9 C740.9 397.9 735.6 393.6 730.3 389.0 C724.9 384.4 719.6 379.4 714.2 374.6 C708.9 369.8 703.6 364.9 698.2 360.1 C692.9 355.3 687.7 350.5 682.1 345.7 C676.5 340.9 669.5 335.8 664.5 331.2 C659.5 326.6 652.0 318.0 652.0 318.0Z" fill="#b4dcd0" stroke="#1a1a1a" stroke-width="2.9" stroke-linejoin="round" />
<path d="M756.0 383.0 C756.0 383.0 782.9 399.7 795.3 407.0 C807.7 414.3 818.8 420.8 830.6 427.0 C842.4 433.2 854.4 439.4 866.0 444.0 C877.6 448.6 889.3 453.3 900.0 454.5 C910.7 455.7 918.7 452.8 930.0 451.0 C941.3 449.2 958.0 446.2 968.0 444.0 C978.0 441.8 990.0 438.0 990.0 438.0 C990.0 438.0 977.3 445.0 968.0 448.5 C958.7 452.0 945.3 456.9 934.0 459.0 C922.7 461.1 909.4 461.6 900.0 461.2 C890.6 460.8 885.3 458.4 877.7 456.5 C870.1 454.6 861.8 452.8 854.2 449.5 C846.6 446.2 837.9 440.6 832.0 437.0 C826.1 433.4 823.5 431.3 818.6 428.0 C813.7 424.7 807.9 420.6 802.5 417.0 C797.1 413.4 791.9 410.6 786.5 406.7 C781.1 402.8 770.4 393.9 770.4 393.9Z" fill="#1580cc" stroke="#1a1a1a" stroke-width="2.9" stroke-linejoin="round" />
<path d="M655.0 300.0 C655.0 300.0 665.8 295.7 678.0 302.0 C690.2 308.3 715.2 329.7 728.0 338.0 C740.8 346.3 745.7 346.1 755.0 351.6 C764.3 357.1 774.3 366.2 784.0 371.0 C793.7 375.8 803.3 377.8 813.0 380.5 C822.7 383.2 827.5 385.5 842.0 387.0 C856.5 388.5 884.7 388.6 900.0 389.4 C915.3 390.2 934.0 392.0 934.0 392.0 C934.0 392.0 921.5 395.3 915.0 398.0 C908.5 400.7 900.2 405.0 895.0 408.0 C889.8 411.0 886.5 412.7 884.0 416.0 C881.5 419.3 879.7 424.5 880.0 428.0 C880.3 431.5 882.7 434.5 886.0 437.0 C889.3 439.5 895.3 441.3 900.0 443.0 C904.7 444.7 914.0 447.0 914.0 447.0 C914.0 447.0 908.0 452.5 900.0 452.0 C892.0 451.5 877.6 448.2 866.0 444.0 C854.4 439.8 842.4 433.2 830.6 427.0 C818.8 420.8 807.1 414.0 795.3 407.0 C783.5 400.0 766.8 389.3 760.0 385.0 C753.2 380.7 758.0 384.1 754.4 381.0 C750.8 377.9 743.6 371.4 738.3 366.6 C732.9 361.8 728.2 357.7 722.3 352.1 C716.4 346.5 710.0 338.5 703.0 332.8 C696.0 327.1 686.5 323.0 680.0 318.0 C673.5 313.0 664.0 303.0 664.0 303.0Z" fill="#e8820d" stroke="#1a1a1a" stroke-width="2.9" stroke-linejoin="round" />
<path d="M774.0 383.5 C774.0 383.5 805.7 394.2 819.0 397.7 C832.3 401.2 841.7 403.0 854.0 404.7 C866.3 406.4 888.7 405.8 893.0 408.0 C897.3 410.2 882.8 414.7 880.0 418.0 C877.2 421.3 876.0 424.8 876.0 428.0 C876.0 431.2 877.2 434.0 880.0 437.0 C882.8 440.0 893.0 446.0 893.0 446.0 C893.0 446.0 886.1 445.6 877.7 442.4 C869.3 439.2 854.2 432.5 842.4 427.0 C830.6 421.5 807.0 409.4 807.0 409.4Z" fill="#f0a04b" stroke="#1a1a1a" stroke-width="2" stroke-linejoin="round" />
<path d="M195.0 330.0 C195.0 330.0 224.2 341.1 236.4 345.0 C248.6 348.9 257.3 350.5 268.0 353.5 C278.7 356.5 290.3 359.9 300.6 363.0 C310.9 366.1 319.3 368.8 330.0 372.0 C340.7 375.2 354.5 378.3 364.8 382.5 C375.1 386.7 385.0 393.8 392.0 397.0 C399.0 400.2 401.7 402.8 407.0 402.0 C412.3 401.2 418.0 389.0 424.0 392.0 C430.0 395.0 443.0 420.0 443.0 420.0 L443.0 420.0 C443.0 420.0 413.8 412.0 400.0 408.0 C386.2 404.0 376.7 400.5 360.0 396.0 C343.3 391.5 320.5 385.5 300.0 381.0 C279.5 376.5 263.7 373.2 237.0 369.0 C210.3 364.8 172.5 359.7 140.0 356.0 C107.5 352.3 42.0 347.0 42.0 347.0 L42 330 L120 329 L141 313Z" fill="#fff000" stroke="none" stroke-width="0" stroke-linejoin="round" />
<path d="M195.0 330.0 C195.0 330.0 224.2 341.1 236.4 345.0 C248.6 348.9 257.3 350.5 268.0 353.5 C278.7 356.5 290.3 359.9 300.6 363.0 C310.9 366.1 319.3 368.8 330.0 372.0 C340.7 375.2 354.5 378.3 364.8 382.5 C375.1 386.7 385.0 393.8 392.0 397.0 C399.0 400.2 401.7 402.8 407.0 402.0 C412.3 401.2 418.0 389.0 424.0 392.0 C430.0 395.0 443.0 420.0 443.0 420.0" fill="none" stroke="#1a1a1a" stroke-width="2.9"  stroke-linecap="round" stroke-linejoin="round"/>
<path d="M443.0 420.0 C443.0 420.0 413.8 412.0 400.0 408.0 C386.2 404.0 376.7 400.5 360.0 396.0 C343.3 391.5 320.5 385.5 300.0 381.0 C279.5 376.5 263.7 373.2 237.0 369.0 C210.3 364.8 172.5 359.7 140.0 356.0 C107.5 352.3 42.0 347.0 42.0 347.0" fill="none" stroke="#1a1a1a" stroke-width="2.9"  stroke-linecap="round" stroke-linejoin="round"/>
<path d="M212 310 L232.5 277 L253 310 Z" fill="#72c2ee" stroke="none" stroke-width="0" stroke-linejoin="round" />
<path d="M289 310 L309 277 L329 310 Z" fill="#72c2ee" stroke="none" stroke-width="0" stroke-linejoin="round" />
<path d="M290.0 300.0 L320.0 300.0 L347.6 332.0 L375.0 300.0 L385.0 272.0 L390.0 300.0 L392.0 340.0 L340.0 348.0 L290.0 318.0Z" fill="#72c2ee" stroke="none" stroke-width="0" stroke-linejoin="round" />
<path d="M280.0 303.5 C280.0 303.5 285.8 303.4 290.0 303.5 C294.2 303.6 300.0 303.0 305.0 303.9 C310.0 304.8 314.5 306.3 320.0 308.7 C325.5 311.1 333.4 315.9 338.0 318.5 C342.6 321.1 344.4 324.0 347.6 324.0 C350.8 324.0 352.9 320.9 357.4 318.5 C361.9 316.1 370.8 311.6 374.6 309.5 C378.4 307.4 380.0 306.0 380.0 306.0" fill="none" stroke="#dd2119" stroke-width="6.5" stroke-linecap="butt" stroke-linejoin="round"/>
<path d="M216.0 307.0 L216.4 305.0 L220.7 296.4 L233.5 300.7 L232.5 294.3 L237.8 293.2 L242.0 295.3 L255.0 300.0 L270.0 318.0 L284.0 315.5 L290.0 315.5 L297.5 317.7 L302.7 309.5 L311.0 309.5 L320.0 314.7 L331.2 323.7 L338.0 330.4 L344.0 334.0 L352.0 336.0 L357.4 336.4 L358.9 325.2 L364.9 320.0 L372.4 321.5 L379.9 326.0 L389.0 332.0 L372.4 305.0 L376.0 298.0 L385.0 270.0 L400.0 280.0 L405.0 288.0 L408.0 304.0 L402.0 309.0 L405.0 317.0 L408.0 336.0 L412.0 341.0 L423.0 351.0 L435.0 356.0 L418.0 359.0 L409.0 364.6 L410.0 370.0 L420.0 380.0 L437.0 382.0 L466.0 393.0 L493.0 406.0 L483.0 387.0 L489.0 380.0 L470.0 372.0 L440.0 367.0 L417.0 372.0 L413.0 375.0 L417.0 383.0 L413.0 392.0 L402.0 394.6 L386.0 388.0 L353.0 372.0 L300.0 355.0 L287.0 348.8 L265.6 341.4 L244.0 329.6 L228.0 318.0Z" fill="#e8820d" stroke="#1a1a1a" stroke-width="3" stroke-linejoin="round" />
<path d="M331.0 323.0 L336.0 328.0 L343.5 346.0 L339.0 333.0Z" fill="#1a1a1a" stroke="none" stroke-width="0" stroke-linejoin="round" />
<path d="M357.0 332.0 C357.0 332.0 358.9 328.8 362.0 333.0 C365.1 337.2 375.5 357.0 375.5 357.0 C375.5 357.0 360.0 338.0 360.0 338.0Z" fill="#1a1a1a" stroke="none" stroke-width="0" stroke-linejoin="round" />
<path d="M372.4 305.0 L375.0 305.0 L407.5 360.5 L404.0 357.0Z" fill="#1a1a1a" stroke="none" stroke-width="0" stroke-linejoin="round" />
<path d="M206.0 312.0 C206.0 312.0 212.3 304.0 216.0 305.0 C219.7 306.0 223.3 313.9 228.0 318.0 C232.7 322.1 237.7 325.7 244.0 329.6 C250.3 333.5 258.4 338.2 265.6 341.4 C272.8 344.6 283.9 347.2 287.0 348.8 C290.1 350.4 287.6 351.9 284.0 351.0 C280.4 350.1 272.2 346.2 265.6 343.5 C259.0 340.8 251.3 338.0 244.2 335.0 C237.1 332.0 229.0 328.4 222.8 325.3 C216.6 322.2 206.8 316.7 206.8 316.7Z" fill="#72c2ee" stroke="none" stroke-width="0" stroke-linejoin="round" />
<path d="M206.8 316.7 C206.8 316.7 216.6 322.2 222.8 325.3 C229.0 328.4 237.1 332.0 244.2 335.0 C251.3 338.0 259.0 340.8 265.6 343.5 C272.2 346.2 283.8 351.0 283.8 351.0" fill="none" stroke="#dd2119" stroke-width="6.5" stroke-linecap="butt" stroke-linejoin="round"/>
<path d="M216.0 307.0 C216.0 307.0 223.3 314.2 228.0 318.0 C232.7 321.8 237.7 325.7 244.0 329.6 C250.3 333.5 258.4 338.2 265.6 341.4 C272.8 344.6 281.3 346.5 287.0 348.8 C292.7 351.1 300.0 355.0 300.0 355.0" fill="none" stroke="#1a1a1a" stroke-width="3"  stroke-linecap="round" stroke-linejoin="round"/>
<path d="M611.0 286.0 L638.6 305.3 L661.7 319.8 L656.9 330.0 L640.0 305.0 L616.0 275.0Z" fill="#b4dcd0" stroke="none" stroke-width="0" stroke-linejoin="round" />
<path d="M611.0 286.0 L638.6 305.3 L661.7 319.8 L656.9 330.0 L645.0 312.0Z" fill="#c7c9e6" stroke="none" stroke-width="0" stroke-linejoin="round" />
<path d="M428.0 318.5 C428.0 318.5 435.5 304.8 440.0 300.0 C444.5 295.2 451.3 293.8 455.0 290.0 C458.7 286.2 462.0 277.0 462.0 277.0 C462.0 277.0 479.1 295.9 480.0 300.0 C480.9 304.1 472.7 299.8 467.7 301.8 C462.7 303.8 455.4 308.6 450.0 312.0 C444.6 315.4 435.0 322.0 435.0 322.0Z" fill="#b4dcd0" stroke="none" stroke-width="0" stroke-linejoin="round" />
<path d="M428.0 318.5 C428.0 318.5 443.4 314.8 450.0 312.0 C456.6 309.2 462.4 304.1 467.7 301.8 C473.0 299.5 482.0 298.0 482.0 298.0" fill="none" stroke="#1a1a1a" stroke-width="2.9"  stroke-linecap="round" stroke-linejoin="round"/>
<path d="M470.7 313.5 C470.7 313.5 471.1 304.1 475.0 302.8 C478.9 301.6 494.0 306.0 494.0 306.0" fill="none" stroke="#dd2119" stroke-width="5.5"  stroke-linecap="round" stroke-linejoin="round"/>
<path d="M470.7 313.5 C470.7 313.5 494.0 312.0 494.0 312.0" fill="none" stroke="#dd2119" stroke-width="5.5"  stroke-linecap="round" stroke-linejoin="round"/>
<path d="M492.0 328.5 C492.0 328.5 492.8 335.8 494.2 337.0 C495.6 338.2 498.1 337.4 500.6 336.0 C503.1 334.6 506.0 331.2 509.2 328.5 C512.4 325.8 515.0 322.1 520.0 320.0 C525.0 317.9 534.2 317.1 539.2 315.7 C544.2 314.3 544.6 312.1 550.0 311.4 C555.4 310.7 571.3 311.4 571.3 311.4" fill="none" stroke="#dd2119" stroke-width="5.5"  stroke-linecap="round" stroke-linejoin="round"/>
<path d="M532.8 293.5 C532.8 293.5 567.0 293.5 567.0 293.5" fill="none" stroke="#dd2119" stroke-width="5.5"  stroke-linecap="round" stroke-linejoin="round"/>
<path d="M524.2 324.2 C524.2 324.2 520.7 335.6 520.0 341.3 C519.3 347.0 519.3 354.6 520.0 358.5 C520.7 362.4 527.1 362.5 524.2 365.0 C521.3 367.5 508.5 371.3 502.8 373.5 C497.1 375.7 490.0 378.0 490.0 378.0" fill="none" stroke="#dd2119" stroke-width="5.5"  stroke-linecap="round" stroke-linejoin="round"/>
<path d="M524.2 362.0 C524.2 362.0 538.6 358.7 550.0 358.5 C561.4 358.3 582.0 359.7 592.7 360.6 C603.4 361.5 606.8 361.9 614.0 364.0 C621.2 366.1 636.0 373.0 636.0 373.0" fill="none" stroke="#dd2119" stroke-width="5.5"  stroke-linecap="round" stroke-linejoin="round"/>
<path d="M528.5 320.0 C528.5 320.0 542.9 316.1 550.0 315.7 C557.1 315.3 564.2 316.0 571.3 317.8 C578.4 319.6 585.6 322.5 592.7 326.4 C599.8 330.3 609.0 337.7 614.0 341.3 C619.0 344.9 622.7 347.8 622.7 347.8" fill="none" stroke="#dd2119" stroke-width="5.5"  stroke-linecap="round" stroke-linejoin="round"/>
<path d="M607.7 292.8 C607.7 292.8 638.6 312.0 638.6 312.0" fill="none" stroke="#dd2119" stroke-width="6"  stroke-linecap="round" stroke-linejoin="round"/>
<path d="M600.0 308.2 C600.0 308.2 618.8 320.0 630.0 327.0 C641.2 334.0 655.8 342.5 667.5 350.0 C679.2 357.5 700.0 371.8 700.0 371.8" fill="none" stroke="#dd2119" stroke-width="6.5"  stroke-linecap="round" stroke-linejoin="round"/>
<path d="M598.0 320.0 L606.0 326.0 L622.2 346.7Z" fill="#dd2119" stroke="none" stroke-width="0" stroke-linejoin="round" />
<path d="M665.0 318.0 L691.5 277.0 L712.0 306.0 L700.0 312.0 L689.6 306.3 L672.0 314.0Z" fill="#e8820d" stroke="none" stroke-width="0" stroke-linejoin="round" />
<path d="M700.0 290.0 L712.0 306.0 L713.7 325.5 L728.2 330.0 L740.0 330.0 L715.0 290.0Z" fill="#f0a04b" stroke="none" stroke-width="0" stroke-linejoin="round" />
<path d="M689.6 306.3 L713.7 325.5" fill="none" stroke="#1a1a1a" stroke-width="2.9"  stroke-linecap="round" stroke-linejoin="round"/>
<path d="M682.9 296.6 L696.4 344.8" fill="none" stroke="#dd2119" stroke-width="5.5" stroke-linecap="butt" stroke-linejoin="round"/>
<path d="M696.4 290.8 L715.8 358.5" fill="none" stroke="#dd2119" stroke-width="5.5" stroke-linecap="butt" stroke-linejoin="round"/>
<path d="M711.8 314 L728.7 371.4" fill="none" stroke="#dd2119" stroke-width="5.5" stroke-linecap="butt" stroke-linejoin="round"/>
<path d="M667.5 316.9 L671.3 319.8" fill="none" stroke="#dd2119" stroke-width="4" stroke-linecap="butt" stroke-linejoin="round"/>
<path d="M1230.0 304.0 C1230.0 304.0 1239.0 304.3 1243.0 306.0 C1247.0 307.7 1250.8 310.7 1254.0 314.0 C1257.2 317.3 1261.3 323.3 1262.0 326.0 C1262.7 328.7 1260.0 331.3 1258.0 330.0 C1256.0 328.7 1253.0 321.3 1250.0 318.0 C1247.0 314.7 1240.0 310.0 1240.0 310.0Z" fill="#1e9be2" stroke="#1a1a1a" stroke-width="2" stroke-linejoin="round" />
<path d="M912.0 446.0 C912.0 446.0 926.5 442.8 935.0 441.0 C943.5 439.2 963.0 435.0 963.0 435.0" fill="none" stroke="#dd2119" stroke-width="3.8" stroke-linecap="butt" stroke-linejoin="round"/>
<path d="M1266 633 L1333 558 L1330.0 558.0 C1330.0 558.0 1347.3 574.1 1357.0 585.0 C1366.7 595.9 1377.6 610.0 1387.9 623.5 C1398.2 637.0 1409.1 652.3 1418.7 665.8 C1428.3 679.3 1436.1 690.9 1445.7 704.4 C1455.3 717.9 1476.5 746.8 1476.5 746.8 L1478 749 L1440 760 L1413 766 L1413.4 767.8 C1413.4 767.8 1404.4 753.6 1398.0 744.6 C1391.6 735.6 1385.1 724.6 1374.8 713.7 C1364.5 702.8 1349.1 689.0 1336.2 679.0 C1323.3 669.0 1309.3 661.6 1297.6 653.9 C1285.9 646.2 1266.0 633.0 1266.0 633.0Z" fill="#ffffff" stroke="none" stroke-width="0" stroke-linejoin="round" />
<path d="M1513.0 306.0 C1513.0 306.0 1510.5 313.3 1505.0 322.0 C1499.5 330.7 1490.8 346.2 1480.0 358.0 C1469.2 369.8 1454.1 384.1 1440.0 393.0 C1425.9 401.9 1410.7 407.6 1395.6 411.6 C1380.5 415.7 1362.9 414.1 1349.4 417.3 C1335.9 420.5 1323.4 424.1 1314.7 430.8 C1306.0 437.6 1300.5 448.2 1297.3 457.8 C1294.1 467.4 1293.8 477.7 1295.4 488.6 C1297.0 499.5 1301.2 511.7 1307.0 523.3 C1312.8 534.9 1321.7 547.7 1330.0 558.0 C1338.3 568.3 1347.3 574.1 1357.0 585.0 C1366.7 595.9 1377.6 610.0 1387.9 623.5 C1398.2 637.0 1409.1 652.3 1418.7 665.8 C1428.3 679.3 1436.1 690.9 1445.7 704.4 C1455.3 717.9 1476.5 746.8 1476.5 746.8" fill="none" stroke="#dd2119" stroke-width="4.5"  stroke-linecap="round" stroke-linejoin="round"/>
<path d="M40.0 670.3 C40.0 670.3 81.7 671.5 102.6 672.5 C123.5 673.5 144.3 674.6 165.2 676.6 C186.1 678.6 206.9 681.5 227.8 684.4 C248.7 687.3 269.5 690.4 290.4 693.8 C311.3 697.2 332.1 700.9 353.0 704.8 C373.9 708.7 394.7 712.9 415.6 717.3 C436.5 721.7 457.3 727.2 478.2 731.4 C499.1 735.6 519.9 738.6 540.8 742.3 C561.7 745.9 580.2 748.7 603.4 753.3 C626.6 757.9 655.7 764.7 680.0 770.0 C704.3 775.3 716.3 777.9 749.4 785.3 C782.5 792.7 835.6 804.7 878.7 814.4 C921.8 824.1 965.0 833.8 1008.1 843.5 C1051.2 853.2 1104.1 864.6 1137.5 872.6 C1170.9 880.6 1208.6 891.4 1208.6 891.4" fill="none" stroke="#1a1a1a" stroke-width="2.9"  stroke-linecap="round" stroke-linejoin="round"/>
<path d="M40.0 521.3 C40.0 521.3 87.3 522.5 111.0 524.1 C134.7 525.8 158.3 528.6 181.9 531.2 C205.5 533.8 229.2 536.6 252.8 539.7 C276.4 542.8 300.2 546.4 323.8 549.7 C347.4 553.0 371.1 556.3 394.7 559.6 C418.3 562.9 442.0 566.1 465.7 569.5 C489.4 572.9 513.0 576.3 536.6 579.8 C560.2 583.3 580.9 587.0 607.6 590.5 C634.3 594.0 697.0 600.5 697.0 600.5" fill="none" stroke="#1a1a1a" stroke-width="2.9"  stroke-linecap="round" stroke-linejoin="round"/>
<path d="M697.0 600.5 C697.0 600.5 734.3 591.1 757.2 586.3 C780.1 581.5 808.7 575.9 834.4 571.7 C860.1 567.5 885.9 563.8 911.6 561.2 C937.3 558.6 969.5 557.0 988.8 556.2 C1008.1 555.4 1014.5 555.4 1027.4 556.2 C1040.3 557.0 1053.1 559.1 1066.0 561.2 C1078.9 563.3 1091.7 565.8 1104.6 569.0 C1117.5 572.2 1130.3 576.3 1143.2 580.5 C1156.1 584.7 1168.9 588.9 1181.8 594.0 C1194.7 599.1 1206.4 604.9 1220.4 611.4 C1234.4 617.9 1253.1 625.9 1266.0 633.0 C1278.9 640.1 1285.9 646.2 1297.6 653.9 C1309.3 661.6 1323.3 669.0 1336.2 679.0 C1349.1 689.0 1364.5 702.8 1374.8 713.7 C1385.1 724.6 1391.6 735.6 1398.0 744.6 C1404.4 753.6 1413.4 767.8 1413.4 767.8" fill="none" stroke="#1a1a1a" stroke-width="2.9"  stroke-linecap="round" stroke-linejoin="round"/>
<path d="M697.0 600.5 C697.0 600.5 760.0 616.0 795.8 624.9 C831.6 633.8 873.0 644.1 911.6 653.9 C950.2 663.7 988.8 672.2 1027.4 683.5 C1066.0 694.8 1111.0 709.6 1143.2 721.4 C1175.4 733.2 1194.3 741.4 1220.4 754.2 C1246.5 767.0 1300.0 798.0 1300.0 798.0" fill="none" stroke="#1a1a1a" stroke-width="8.5" stroke-linecap="butt" stroke-linejoin="round"/>
<path d="M697.0 600.5 C697.0 600.5 760.0 616.0 795.8 624.9 C831.6 633.8 873.0 644.1 911.6 653.9 C950.2 663.7 988.8 672.2 1027.4 683.5 C1066.0 694.8 1111.0 709.6 1143.2 721.4 C1175.4 733.2 1194.3 741.4 1220.4 754.2 C1246.5 767.0 1300.0 798.0 1300.0 798.0" fill="none" stroke="#dd2119" stroke-width="4.2" stroke-linecap="butt" stroke-linejoin="round"/>
<defs><clipPath id="skyclip"><path d="M0 0 L1917 0 L1917 329 L1880 329 L1878.6 328.4 L1842.0 322.8 L1794.6 328.4 L1724.5 328.4 L1682.5 313.9 L1653.0 328.4 L1606.0 317.5 L1573.0 327.0 L1534.0 305.5 L1496.5 327.8 L1454.8 294.5 L1417.3 327.8 L1380.3 278.5 L1340.9 327.8 L1303.6 278.5 L1264.3 327.8 L1226.7 278.5 L1190.3 327.8 L1150.3 278.5 L1110.8 327.8 L1074.0 278.5 L1038.0 327.8 L997.3 278.5 L960.5 327.8 L920.9 278.5 L881.7 327.8 L844.2 278.5 L807.8 327.8 L768.0 278.5 L730.8 327.8 L691.6 278.5 L655.9 327.8 L615.0 278.5 L578.8 327.8 L538.0 278.5 L501.7 327.8 L462.0 278.5 L422.5 327.8 L385.0 278.5 L347.6 327.8 L309.0 278.5 L269.5 327.8 L232.0 278.5 L195.6 329.5 L141.0 313.0 L120.0 329.0 L40.0 329.0 L0 329 Z"/></clipPath></defs>
<path d="M0 0 L1917 0 L1917 329 L1880 329 L1878.6 328.4 L1842.0 322.8 L1794.6 328.4 L1724.5 328.4 L1682.5 313.9 L1653.0 328.4 L1606.0 317.5 L1573.0 327.0 L1534.0 305.5 L1496.5 327.8 L1454.8 294.5 L1417.3 327.8 L1380.3 278.5 L1340.9 327.8 L1303.6 278.5 L1264.3 327.8 L1226.7 278.5 L1190.3 327.8 L1150.3 278.5 L1110.8 327.8 L1074.0 278.5 L1038.0 327.8 L997.3 278.5 L960.5 327.8 L920.9 278.5 L881.7 327.8 L844.2 278.5 L807.8 327.8 L768.0 278.5 L730.8 327.8 L691.6 278.5 L655.9 327.8 L615.0 278.5 L578.8 327.8 L538.0 278.5 L501.7 327.8 L462.0 278.5 L422.5 327.8 L385.0 278.5 L347.6 327.8 L309.0 278.5 L269.5 327.8 L232.0 278.5 L195.6 329.5 L141.0 313.0 L120.0 329.0 L40.0 329.0 L0 329 Z" fill="#ffffff" stroke="none" stroke-width="0" stroke-linejoin="round" />
<path d="M1653.0 328.4 L1682.5 313.9 L1724.5 328.4 L1794.6 328.4 L1842.0 322.8 L1878.6 328.4 L1880.0 331.0 L1653.0 331.0Z" fill="#ffffff" stroke="none" stroke-width="0" stroke-linejoin="round" />
<g clip-path="url(#skyclip)">
<path d="M155.0 260.0 C155.0 260.0 242.5 263.3 300.0 264.0 C357.5 264.7 433.3 264.3 500.0 264.0 C566.7 263.7 656.7 262.3 700.0 262.0 C743.3 261.7 750.0 249.8 760.0 262.0 C770.0 274.2 850.8 322.8 760.0 335.0 C669.2 347.2 313.3 342.5 215.0 335.0 C116.7 327.5 170.0 290.0 170.0 290.0Z" fill="#c9e2f3" stroke="none" stroke-width="0" stroke-linejoin="round" />
<path d="M42.0 331.0 L42.0 296.0 L67.0 285.0 L90.0 283.0 L126.0 267.0 L152.0 286.0 L186.0 308.0 L198.0 331.0Z" fill="#fffaa8" stroke="none" stroke-width="0" stroke-linejoin="round" />
<path d="M46.0 331.0 L80.0 283.0 L115.0 331.0Z" fill="#fff000" stroke="none" stroke-width="0" stroke-linejoin="round" />
<path d="M120.0 331.0 L151.0 286.0 L196.0 331.0Z" fill="#fff000" stroke="none" stroke-width="0" stroke-linejoin="round" />
<path d="M126.6 266.0 L137.2 259.1 L146.0 262.0 L212.0 322.0 L205.0 331.0 L196.0 331.0Z" fill="#d5ebc5" stroke="none" stroke-width="0" stroke-linejoin="round" />
<path d="M126.6 266.0 C126.6 266.0 151.7 286.1 151.7 286.1" fill="none" stroke="#a3a3a3" stroke-width="3" stroke-linecap="butt" stroke-linejoin="round"/>
<path d="M151.0 284.0 L155.0 282.0 L200.0 326.0 L195.0 331.0Z" fill="#80c21f" stroke="none" stroke-width="0" stroke-linejoin="round" />
<path d="M150.7 286.1 C150.7 286.1 194.4 330.0 194.4 330.0" fill="none" stroke="#1a1a1a" stroke-width="2.8"  stroke-linecap="round" stroke-linejoin="round"/>
<path d="M147.0 263.0 C147.0 263.0 165.0 276.4 175.0 285.0 C185.0 293.6 207.0 314.4 207.0 314.4" fill="none" stroke="#f4a892" stroke-width="7" stroke-linecap="butt" stroke-linejoin="round"/>
<path d="M157.5 256.5 C157.5 256.5 176.8 255.1 186.4 257.0 C196.0 258.9 206.7 263.5 215.3 267.8 C223.9 272.1 229.1 278.0 238.2 283.0 C247.2 288.0 257.4 294.1 269.6 297.6 C281.8 301.1 299.2 301.9 311.4 304.0 C323.6 306.1 332.3 308.8 342.7 310.2 C353.1 311.6 374.0 312.3 374.0 312.3" fill="none" stroke="#f4a892" stroke-width="6.5" stroke-linecap="butt" stroke-linejoin="round"/>
<path d="M236.0 300.0 C236.0 300.0 254.3 301.2 262.0 303.0 C269.7 304.8 275.7 307.8 282.0 311.0 C288.3 314.2 296.7 318.0 300.0 322.0 C303.3 326.0 312.7 332.8 302.0 335.0 C291.3 337.2 236.0 335.0 236.0 335.0Z" fill="#f8cba5" stroke="none" stroke-width="0" stroke-linejoin="round" />
<path d="M243.4 295.0 C243.4 295.0 255.9 299.5 262.0 302.0 C268.1 304.5 280.2 310.0 280.2 310.0" fill="none" stroke="#a3a3a3" stroke-width="2.5"  stroke-linecap="round" stroke-linejoin="round"/>
<path d="M322.0 320.0 C322.0 320.0 338.7 313.3 347.0 313.0 C355.3 312.7 367.2 314.3 372.0 318.0 C376.8 321.7 384.3 332.2 376.0 335.0 C367.7 337.8 322.0 335.0 322.0 335.0Z" fill="#f8cba5" stroke="none" stroke-width="0" stroke-linejoin="round" />
<path d="M305.0 266.3 C305.0 266.3 297.5 254.1 309.0 251.7 C320.5 249.3 357.0 254.8 374.0 251.7 C391.0 248.6 397.8 236.4 411.0 233.0 C424.2 229.6 449.5 227.5 453.0 231.0 C456.5 234.5 440.8 248.6 432.0 253.8 C423.2 259.0 407.3 258.5 400.0 262.0 C392.7 265.5 392.7 271.0 388.0 274.7 C383.3 278.4 375.8 280.9 372.0 284.0 C368.2 287.1 365.9 289.2 365.5 293.5 C365.1 297.8 370.6 308.9 369.7 310.0 C368.8 311.1 362.8 304.5 360.0 300.0 C357.2 295.5 357.7 287.6 353.0 283.0 C348.3 278.4 332.0 272.6 332.0 272.6Z" fill="#d5ebc5" stroke="none" stroke-width="0" stroke-linejoin="round" />
<path d="M305.0 266.3 C305.0 266.3 324.0 269.8 332.0 272.6 C340.0 275.4 347.4 279.5 353.0 283.0 C358.6 286.5 362.7 289.0 365.5 293.5 C368.3 298.0 369.7 310.0 369.7 310.0" fill="none" stroke="#a3a3a3" stroke-width="2.5"  stroke-linecap="round" stroke-linejoin="round"/>
<path d="M453.0 231.0 C453.0 231.0 473.2 229.8 490.6 229.8 C508.0 229.8 542.8 229.9 557.4 230.9 C572.0 231.9 566.1 235.2 578.3 236.0 C590.5 236.8 620.7 235.1 630.4 236.0 C640.1 236.9 633.6 238.7 636.7 241.3 C639.8 243.9 643.1 247.9 649.0 251.7 C654.9 255.5 664.7 260.1 672.0 264.3 C679.3 268.5 682.5 270.6 693.0 276.8 C703.5 283.1 725.7 296.6 734.7 301.8 C743.7 307.0 753.0 302.5 747.2 308.0 C741.4 313.5 761.2 330.5 700.0 335.0 C638.8 339.5 434.7 340.8 380.0 335.0 C325.3 329.2 372.0 308.8 372.0 300.0 C372.0 291.2 375.3 287.8 380.0 282.0 C384.7 276.2 391.3 269.7 400.0 265.0 C408.7 260.3 432.0 253.8 432.0 253.8Z" fill="#f8cba5" stroke="none" stroke-width="0" stroke-linejoin="round" />
<path d="M453.0 231.0 C453.0 231.0 440.8 248.6 432.0 253.8 C423.2 259.0 407.3 258.5 400.0 262.0 C392.7 265.5 388.0 274.7 388.0 274.7" fill="none" stroke="#a3a3a3" stroke-width="2.5"  stroke-linecap="round" stroke-linejoin="round"/>
<path d="M407.0 293.5 C407.0 293.5 414.0 288.5 421.7 285.0 C429.4 281.5 442.6 277.4 453.0 272.6 C463.4 267.8 473.9 260.7 484.3 256.0 C494.7 251.3 505.2 246.8 515.6 244.4 C526.1 242.0 536.5 240.8 547.0 241.3 C557.5 241.8 567.9 244.1 578.3 247.6 C588.7 251.1 600.8 258.0 609.5 262.2 C618.2 266.4 622.4 263.9 630.4 272.6 C638.4 281.3 650.7 304.7 657.6 314.3 C664.5 323.9 672.0 330.0 672.0 330.0 L651.3 310.0 C651.3 310.0 646.0 304.5 640.8 299.7 C635.6 294.9 628.7 287.2 620.0 281.0 C611.3 274.8 599.1 266.7 588.7 262.2 C578.3 257.7 567.9 255.2 557.4 253.8 C546.9 252.4 536.4 252.1 526.0 253.8 C515.6 255.6 504.2 259.4 494.8 264.3 C485.4 269.2 476.3 277.1 469.7 283.0 C463.1 288.9 458.3 293.8 455.0 300.0 C451.7 306.2 450.0 320.0 450.0 320.0 L420 330 L405 320Z" fill="#c9c8e6" stroke="none" stroke-width="0" stroke-linejoin="round" />
<path d="M407.0 293.5 C407.0 293.5 414.0 288.5 421.7 285.0 C429.4 281.5 442.6 277.4 453.0 272.6 C463.4 267.8 473.9 260.7 484.3 256.0 C494.7 251.3 505.2 246.8 515.6 244.4 C526.1 242.0 536.5 240.8 547.0 241.3 C557.5 241.8 567.9 244.1 578.3 247.6 C588.7 251.1 600.8 258.0 609.5 262.2 C618.2 266.4 622.4 263.9 630.4 272.6 C638.4 281.3 650.7 304.7 657.6 314.3 C664.5 323.9 672.0 330.0 672.0 330.0" fill="none" stroke="#a3a3a3" stroke-width="2.5"  stroke-linecap="round" stroke-linejoin="round"/>
<path d="M651.3 310.0 C651.3 310.0 646.0 304.5 640.8 299.7 C635.6 294.9 628.7 287.2 620.0 281.0 C611.3 274.8 599.1 266.7 588.7 262.2 C578.3 257.7 567.9 255.2 557.4 253.8 C546.9 252.4 536.4 252.1 526.0 253.8 C515.6 255.6 504.2 259.4 494.8 264.3 C485.4 269.2 476.3 277.1 469.7 283.0 C463.1 288.9 458.3 293.8 455.0 300.0 C451.7 306.2 450.0 320.0 450.0 320.0 L450 335 L660 335Z" fill="#d5ebc5" stroke="none" stroke-width="0" stroke-linejoin="round" />
<path d="M651.3 310.0 C651.3 310.0 646.0 304.5 640.8 299.7 C635.6 294.9 628.7 287.2 620.0 281.0 C611.3 274.8 599.1 266.7 588.7 262.2 C578.3 257.7 567.9 255.2 557.4 253.8 C546.9 252.4 536.4 252.1 526.0 253.8 C515.6 255.6 504.2 259.4 494.8 264.3 C485.4 269.2 476.3 277.1 469.7 283.0 C463.1 288.9 458.3 293.8 455.0 300.0 C451.7 306.2 450.0 320.0 450.0 320.0" fill="none" stroke="#a3a3a3" stroke-width="2.5"  stroke-linecap="round" stroke-linejoin="round"/>
<path d="M480.0 299.7 C480.0 299.7 495.6 282.5 505.0 276.8 C514.4 271.1 526.0 267.1 536.5 265.3 C547.0 263.6 557.4 264.7 567.8 266.3 C578.2 267.9 590.3 271.2 599.0 274.7 C607.7 278.2 613.2 282.1 620.0 287.2 C626.8 292.2 640.0 305.0 640.0 305.0" fill="none" stroke="#f4a892" stroke-width="6" stroke-linecap="butt" stroke-linejoin="round"/>
<path d="M484.3 314.3 C484.3 314.3 505.2 299.0 515.6 295.5 C526.1 292.0 538.3 293.7 547.0 293.5 C555.7 293.3 567.8 294.5 567.8 294.5" fill="none" stroke="#f4a892" stroke-width="6" stroke-linecap="butt" stroke-linejoin="round"/>
<path d="M563.6 301.8 C563.6 301.8 581.1 301.6 588.7 303.0 C596.4 304.4 603.5 307.5 609.5 310.0 C615.5 312.5 625.0 318.0 625.0 318.0" fill="none" stroke="#f4a892" stroke-width="6" stroke-linecap="butt" stroke-linejoin="round"/>
<path d="M664.0 257.0 L700.0 258.0 L724.0 255.0 L745.0 247.6 L780.0 246.5 L780.0 335.0 L752.0 335.0 L741.3 310.0 L715.6 292.0 L690.0 274.0Z" fill="#e3f2fa" stroke="none" stroke-width="0" stroke-linejoin="round" />
<path d="M700.0 281.0 L780.0 281.0 L780.0 335.0 L752.0 335.0 L741.3 310.0 L722.0 297.0Z" fill="#cde0e8" stroke="none" stroke-width="0" stroke-linejoin="round" />
<path d="M664.0 257.0 C664.0 257.0 681.4 268.2 690.0 274.0 C698.6 279.8 707.1 286.0 715.6 292.0 C724.1 298.0 735.2 305.0 741.3 310.0 C747.4 315.0 752.0 322.0 752.0 322.0" fill="none" stroke="#a3a3a3" stroke-width="2.5"  stroke-linecap="round" stroke-linejoin="round"/>
<path d="M724.3 257.0 C724.3 257.0 780.0 259.0 780.0 259.0" fill="none" stroke="#a3a3a3" stroke-width="3"  stroke-linecap="round" stroke-linejoin="round"/>
<path d="M724.3 254.9 C724.3 254.9 735.7 249.0 745.0 247.6 C754.3 246.2 774.2 244.9 780.0 246.5 C785.8 248.1 789.3 255.4 780.0 257.0 C770.7 258.6 724.3 256.0 724.3 256.0Z" fill="#f8cba5" stroke="none" stroke-width="0" stroke-linejoin="round" />
<path d="M609.5 249.6 C609.5 249.6 636.7 249.6 636.7 249.6" fill="none" stroke="#a3a3a3" stroke-width="2.5"  stroke-linecap="round" stroke-linejoin="round"/>
<path d="M725.0 246.0 C725.0 246.0 750.8 245.2 780.0 245.0 C809.2 244.8 855.0 244.8 900.0 245.0 C945.0 245.2 1020.0 246.4 1050.0 246.0 C1080.0 245.6 1066.7 244.5 1080.0 242.5 C1093.3 240.5 1113.3 236.1 1130.0 233.8 C1146.7 231.5 1165.4 229.0 1180.0 228.8 C1194.6 228.6 1205.2 230.2 1217.7 232.5 C1230.2 234.8 1240.7 238.3 1255.3 242.5 C1269.9 246.7 1288.6 253.0 1305.3 257.6 C1322.0 262.2 1338.7 266.0 1355.4 270.0 C1372.1 274.0 1388.8 278.0 1405.5 281.4 C1422.2 284.8 1438.9 286.8 1455.6 290.1 C1472.3 293.4 1495.5 298.9 1505.6 301.4 C1515.7 303.9 1510.3 303.6 1516.0 305.0 C1521.7 306.4 1536.0 305.0 1540.0 310.0 C1544.0 315.0 1540.0 335.0 1540.0 335.0 L905 335 L900 305 L887 292 L865.7 272.8 L844 262 L780 257.8 L724 257Z" fill="#ebc8ad" stroke="none" stroke-width="0" stroke-linejoin="round" />
<path d="M780.0 257.8 C780.0 257.8 829.7 259.5 844.0 262.0 C858.3 264.5 858.5 267.8 865.7 272.8 C872.9 277.8 881.3 286.6 887.0 292.0 C892.7 297.4 897.0 297.8 900.0 305.0 C903.0 312.2 925.0 330.0 905.0 335.0 C885.0 340.0 780.0 335.0 780.0 335.0Z" fill="#e3f2fa" stroke="none" stroke-width="0" stroke-linejoin="round" />
<path d="M780.0 275.0 C780.0 275.0 816.7 274.5 830.0 277.0 C843.3 279.5 851.7 284.5 860.0 290.0 C868.3 295.5 875.0 302.5 880.0 310.0 C885.0 317.5 906.7 330.8 890.0 335.0 C873.3 339.2 780.0 335.0 780.0 335.0Z" fill="#c4dde8" stroke="none" stroke-width="0" stroke-linejoin="round" />
<path d="M780.0 257.8 C780.0 257.8 829.7 259.5 844.0 262.0 C858.3 264.5 858.5 267.8 865.7 272.8 C872.9 277.8 881.3 286.6 887.0 292.0 C892.7 297.4 897.0 300.7 900.0 305.0 C903.0 309.3 905.0 318.0 905.0 318.0" fill="none" stroke="#a3a3a3" stroke-width="2.5"  stroke-linecap="round" stroke-linejoin="round"/>
<path d="M1012.0 322.0 C1012.0 322.0 1016.8 309.3 1024.0 305.0 C1031.2 300.7 1045.7 299.3 1055.0 296.0 C1064.3 292.7 1069.6 289.7 1080.0 285.0 C1090.4 280.3 1105.1 273.2 1117.6 267.6 C1130.1 262.0 1144.6 254.4 1155.0 251.3 C1165.4 248.2 1171.7 248.4 1180.0 248.8 C1188.3 249.2 1196.6 250.7 1205.0 253.8 C1213.4 256.9 1221.8 262.4 1230.2 267.6 C1238.6 272.8 1247.0 278.8 1255.3 285.0 C1263.6 291.2 1274.5 300.0 1280.3 305.0 C1286.1 310.0 1288.7 310.2 1290.3 315.2 C1291.9 320.2 1336.7 331.7 1290.0 335.0 C1243.3 338.3 1010.0 335.0 1010.0 335.0Z" fill="#e3f2fa" stroke="none" stroke-width="0" stroke-linejoin="round" />
<path d="M1012.0 322.0 C1012.0 322.0 1016.8 309.3 1024.0 305.0 C1031.2 300.7 1045.7 299.3 1055.0 296.0 C1064.3 292.7 1069.6 289.7 1080.0 285.0 C1090.4 280.3 1105.1 273.2 1117.6 267.6 C1130.1 262.0 1144.6 254.4 1155.0 251.3 C1165.4 248.2 1171.7 248.4 1180.0 248.8 C1188.3 249.2 1196.6 250.7 1205.0 253.8 C1213.4 256.9 1221.8 262.4 1230.2 267.6 C1238.6 272.8 1247.0 278.8 1255.3 285.0 C1263.6 291.2 1274.5 300.0 1280.3 305.0 C1286.1 310.0 1290.3 315.2 1290.3 315.2" fill="none" stroke="#a3a3a3" stroke-width="2.5"  stroke-linecap="round" stroke-linejoin="round"/>
<path d="M1080.0 300.0 C1080.0 300.0 1113.3 280.8 1130.0 275.0 C1146.7 269.2 1165.4 265.4 1180.0 265.0 C1194.6 264.6 1207.2 269.3 1217.7 272.6 C1228.2 275.9 1235.6 280.0 1242.7 285.0 C1249.8 290.0 1255.8 295.1 1260.3 302.6 C1264.8 310.1 1300.0 324.6 1270.0 330.0 C1240.0 335.4 1080.0 335.0 1080.0 335.0Z" fill="#a9c4ce" stroke="none" stroke-width="0" stroke-linejoin="round" />
<path d="M1080.0 300.0 C1080.0 300.0 1113.3 280.8 1130.0 275.0 C1146.7 269.2 1165.4 265.4 1180.0 265.0 C1194.6 264.6 1207.2 269.3 1217.7 272.6 C1228.2 275.9 1235.6 280.0 1242.7 285.0 C1249.8 290.0 1255.8 295.9 1260.3 302.6 C1264.8 309.3 1270.0 325.0 1270.0 325.0" fill="none" stroke="#a3a3a3" stroke-width="2.5"  stroke-linecap="round" stroke-linejoin="round"/>
<path d="M1117.6 317.7 C1117.6 317.7 1144.6 300.4 1155.0 295.0 C1165.4 289.6 1171.7 286.7 1180.0 285.0 C1188.3 283.3 1196.6 283.3 1205.0 285.0 C1213.4 286.7 1223.5 290.0 1230.2 295.0 C1236.9 300.0 1241.7 308.3 1245.0 315.0 C1248.3 321.7 1272.5 331.7 1250.0 335.0 C1227.5 338.3 1110.0 335.0 1110.0 335.0Z" fill="#fad9ba" stroke="none" stroke-width="0" stroke-linejoin="round" />
<path d="M1117.6 317.7 C1117.6 317.7 1144.6 300.4 1155.0 295.0 C1165.4 289.6 1171.7 286.7 1180.0 285.0 C1188.3 283.3 1196.6 283.3 1205.0 285.0 C1213.4 286.7 1223.5 290.0 1230.2 295.0 C1236.9 300.0 1245.0 315.0 1245.0 315.0" fill="none" stroke="#a3a3a3" stroke-width="2.5"  stroke-linecap="round" stroke-linejoin="round"/>
<path d="M1262.0 280.0 C1262.0 280.0 1271.1 284.1 1275.0 287.0 C1278.9 289.9 1282.5 293.8 1285.3 297.6 C1288.1 301.4 1292.0 310.0 1292.0 310.0" fill="none" stroke="#a3a3a3" stroke-width="2.5"  stroke-linecap="round" stroke-linejoin="round"/>
<path d="M1516.0 305.0 L1560.0 305.0 L1580.0 320.0 L1510.0 330.0Z" fill="#f6c6cb" stroke="none" stroke-width="0" stroke-linejoin="round" />
<path d="M638.7 243.4 L661.7 306.0" fill="none" stroke="#f4a892" stroke-width="6.5" stroke-linecap="butt" stroke-linejoin="round"/>
<path d="M678.4 256.0 L682.6 293.5" fill="none" stroke="#f4a892" stroke-width="6.5" stroke-linecap="butt" stroke-linejoin="round"/>
<path d="M695.0 266.3 L699.3 289.3" fill="none" stroke="#f4a892" stroke-width="6.5" stroke-linecap="butt" stroke-linejoin="round"/>
<path d="M714.0 274.7 L715.0 304.0" fill="none" stroke="#f4a892" stroke-width="6.5" stroke-linecap="butt" stroke-linejoin="round"/>
</g>
<path d="M103.5 230.7 L128.5 260.0" fill="none" stroke="#f4a892" stroke-width="4.5" stroke-linecap="butt" stroke-linejoin="round"/>
<path d="M108.0 249.5 L128.5 260.0" fill="none" stroke="#f4a892" stroke-width="4" stroke-linecap="butt" stroke-linejoin="round"/>
<path d="M114.0 215.8 L135.3 251.4" fill="none" stroke="#f4a892" stroke-width="4.5" stroke-linecap="butt" stroke-linejoin="round"/>
<path d="M114.0 215.8 L112.0 227.0" fill="none" stroke="#f4a892" stroke-width="3.5" stroke-linecap="butt" stroke-linejoin="round"/>
<path d="M114.0 215.8 L124.0 220.0" fill="none" stroke="#f4a892" stroke-width="3.5" stroke-linecap="butt" stroke-linejoin="round"/>
<path d="M121.8 219.6 L141.0 247.6" fill="none" stroke="#f4a892" stroke-width="4.5" stroke-linecap="butt" stroke-linejoin="round"/>
<path d="M1517.0 298.5 L1522.0 251.0" fill="none" stroke="#f4a892" stroke-width="5" stroke-linecap="butt" stroke-linejoin="round"/>
<path d="M1522.0 249.0 L1513.0 263.0" fill="none" stroke="#f4a892" stroke-width="3.5" stroke-linecap="butt" stroke-linejoin="round"/>
<path d="M1522.0 249.0 L1529.0 262.0" fill="none" stroke="#f4a892" stroke-width="3.5" stroke-linecap="butt" stroke-linejoin="round"/>
<path d="M1525.4 258.0 L1523.3 290.0" fill="none" stroke="#f4a892" stroke-width="4.5" stroke-linecap="butt" stroke-linejoin="round"/>
<path d="M1534.0 258.0 L1528.5 298.0" fill="none" stroke="#f4a892" stroke-width="4" stroke-linecap="butt" stroke-linejoin="round"/>
<path d="M1528.0 300.6 L1524.0 287.0" fill="none" stroke="#e8584a" stroke-width="3" stroke-linecap="butt" stroke-linejoin="round"/>
<path d="M1528.0 300.6 L1536.0 289.0" fill="none" stroke="#e8584a" stroke-width="3" stroke-linecap="butt" stroke-linejoin="round"/>
<path d="M30 331 L1880 331" fill="none" stroke="#1a1a1a" stroke-width="2.2" stroke-linecap="butt" stroke-linejoin="round"/>
<path d="M40.0 329.0 L120.0 329.0 L141.0 313.0 L195.6 329.5 L232.0 278.5 L269.5 327.8 L309.0 278.5 L347.6 327.8 L385.0 278.5 L422.5 327.8 L462.0 278.5 L501.7 327.8 L538.0 278.5 L578.8 327.8 L615.0 278.5 L655.9 327.8 L691.6 278.5 L730.8 327.8 L768.0 278.5 L807.8 327.8 L844.2 278.5 L881.7 327.8 L920.9 278.5 L960.5 327.8 L997.3 278.5 L1038.0 327.8 L1074.0 278.5 L1110.8 327.8 L1150.3 278.5 L1190.3 327.8 L1226.7 278.5 L1264.3 327.8 L1303.6 278.5 L1340.9 327.8 L1380.3 278.5 L1417.3 327.8 L1454.8 294.5 L1496.5 327.8 L1534.0 305.5 L1573.0 327.0 L1606.0 317.5 L1653.0 328.4 L1682.5 313.9 L1724.5 328.4 L1794.6 328.4 L1842.0 322.8 L1878.6 328.4" fill="none" stroke="#1a1a1a" stroke-width="4.2" stroke-linejoin="miter" stroke-linecap="round"/>
<rect x="38" y="322" width="4" height="402" fill="#1a1a1a"/>
<rect x="38" y="322" width="4" height="8" fill="#9a9a9a"/>
<rect x="30" y="431" width="9" height="2.2" fill="#1a1a1a"/>
<rect x="30" y="527" width="9" height="2.2" fill="#1a1a1a"/>
<rect x="30" y="626" width="9" height="2.2" fill="#1a1a1a"/>
<rect x="30" y="722" width="9" height="2.2" fill="#1a1a1a"/>
<text x="26.2" y="39.2" font-size="37.4" fill="#1e1a1a" >Profil durch die Alpen</text>
<text x="27.0" y="80.3" font-size="37.4" fill="#1e1a1a" >(etwa: Bern - Novara)</text>
<rect x="958.2" y="2.2" width="442" height="100.5" fill="#fff" stroke="#1a1a1a" stroke-width="2.2"/>
<text x="976.1" y="37.9" font-size="37.5" fill="#1e1a1a" >Ozeanische Gesteine</text>
<text x="976.1" y="79.2" font-size="37.5" fill="#1e1a1a" >Südp. (Piemont-Lig. Oz.)</text>
<text x="442.3" y="133.6" font-size="29.2" fill="#1e1a1a" >Oz. Gesteine</text>
<text x="442.3" y="166.5" font-size="29.2" fill="#1e1a1a" >Nordpenn.</text>
<text x="698.5" y="119.4" font-size="29.2" fill="#1e1a1a" >Subpenn. oder</text>
<text x="698.7" y="152.5" font-size="29.2" fill="#1e1a1a" >Briançonnais</text>
<text x="78.4" y="190.5" font-size="29.2" fill="#1e1a1a" >Sedimentbedeckung</text>
<text x="366.3" y="190.5" font-size="29.2" fill="#1e1a1a" >Europas</text>
<text x="22.0" y="221.3" font-size="29.2" fill="#1e1a1a" >NW</text>
<text x="104.0" y="227.6" font-size="29.2" fill="#1e1a1a" >(Helv. Decken)</text>
<text x="1409.7" y="192.0" font-size="29.2" fill="#1e1a1a" >Erdoberfläche (schematisch)</text>
<text x="1826.8" y="221.4" font-size="29.2" fill="#1e1a1a" >SE</text>
<text x="1660.0" y="266.0" font-size="29.0" fill="#1e1a1a" >Vorlandbecken</text>
<text x="1666.8" y="298.5" font-size="29.0" fill="#1e1a1a" >Sedimente</text>
<text x="893.7" y="280.0" font-size="29.2" fill="#a09c9c" >Dent Blanche</text>
<text x="1104.0" y="359.9" font-size="29.0" fill="#1e1a1a" >Mt. Rosa</text>
<text x="65.6" y="504.4" font-size="33.4" fill="#1e1a1a" >Kristallin der Europäischen Kruste</text>
<text x="1648.6" y="454.2" font-size="33.4" fill="#1e1a1a" >Kristallin der</text>
<text x="1651.3" y="490.9" font-size="33.4" fill="#1e1a1a" >Adriatische Pl.</text>
<text x="1583.4" y="555.3" font-size="29.0" fill="#1e1a1a" >Adriatische</text>
<text x="1680.0" y="586.1" font-size="29.0" fill="#1e1a1a" >Unterkruste</text>
<text x="1485.4" y="668.7" font-size="29.2" fill="#1e1a1a" >Ivrea Mantel</text>
<text x="313.4" y="649.4" font-size="33.2" fill="#1e1a1a" transform="rotate(7.2 313.4 649.4)">untere Kruste</text>
<text x="357.3" y="747.0" font-size="33.2" fill="#1e1a1a" transform="rotate(7.7 357.3 747)">Mantel</text>
<text x="691.0" y="431.0" font-size="29.0" fill="#1e1a1a" transform="rotate(40.5 691 431)">Mt. Blanc</text>
<text x="1464.5" y="777.2" font-size="24.9" fill="#1e1a1a" font-style="italic" transform="rotate(-6.5 1464.5 777.2)">Nach: S. Schmid und Kissling (2000)</text>
<text x="7.5" y="280.8" font-size="28.5" style="font-family:Liberation Serif" fill="#1e1a1a">km</text>
<text x="11" y="340.7" font-size="24.5" style="font-family:Liberation Serif" fill="#1e1a1a">0</text>
<text x="1.5" y="440.6" font-size="22.4" fill="#1e1a1a" >10</text>
<text x="1.5" y="536.5" font-size="22.4" fill="#1e1a1a" >20</text>
<text x="1.5" y="635.5" font-size="22.4" fill="#1e1a1a" >30</text>
<text x="1.5" y="731.5" font-size="22.4" fill="#1e1a1a" >40</text>
<path d="M514.6 179.5 L673 324" fill="none" stroke="#1a1a1a" stroke-width="2"  stroke-linecap="round" stroke-linejoin="round"/>
<path d="M753.6 167 L752 352" fill="none" stroke="#1a1a1a" stroke-width="2"  stroke-linecap="round" stroke-linejoin="round"/>
<path d="M1141 103 L1015.5 321.5" fill="none" stroke="#1a1a1a" stroke-width="2"  stroke-linecap="round" stroke-linejoin="round"/>
<path d="M1170 103 L1285.6 326" fill="none" stroke="#1a1a1a" stroke-width="2"  stroke-linecap="round" stroke-linejoin="round"/>
<path d="M1502.4 203.8 L1392.6 290" fill="none" stroke="#1a1a1a" stroke-width="2"  stroke-linecap="round" stroke-linejoin="round"/>
<path d="M1780.6 306.9 L1794 339" fill="none" stroke="#1a1a1a" stroke-width="2"  stroke-linecap="round" stroke-linejoin="round"/>
<circle cx="673.4" cy="324.2" r="5.5" fill="#1a1a1a"/>
<circle cx="752.0" cy="352.5" r="5.5" fill="#1a1a1a"/>
<circle cx="1015.3" cy="321.4" r="5.5" fill="#1a1a1a"/>
<circle cx="1285.6" cy="326.3" r="5.5" fill="#1a1a1a"/>
<circle cx="1794.0" cy="339.0" r="5.5" fill="#1a1a1a"/>
</svg></body></html>
